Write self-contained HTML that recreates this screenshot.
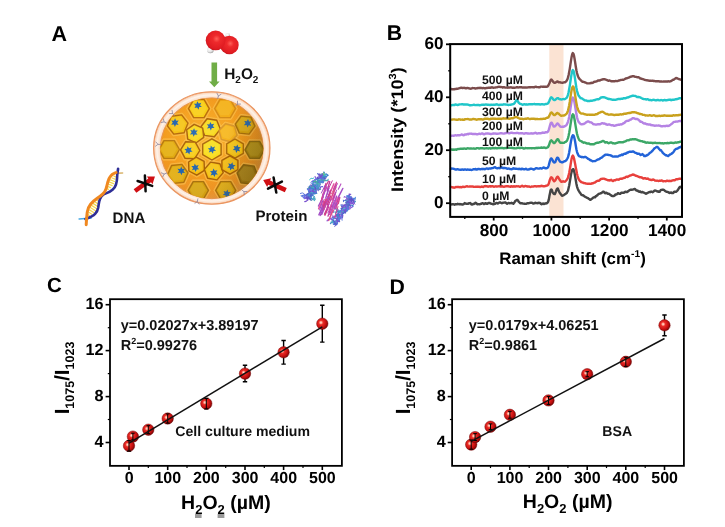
<!DOCTYPE html>
<html lang="en"><head><meta charset="utf-8"><title>Figure</title>
<style>html,body{margin:0;padding:0;background:#fff}svg{display:block;text-rendering:geometricPrecision}</style></head>
<body><svg width="725" height="527" viewBox="0 0 725 527">
<rect width="725" height="527" fill="#fff"/>
<defs>
<radialGradient id="ball" cx="0.38" cy="0.4" r="0.64"><stop offset="0" stop-color="#ffe6d6"/><stop offset="0.14" stop-color="#ffa694"/><stop offset="0.3" stop-color="#ea2c26"/><stop offset="0.68" stop-color="#c81010"/><stop offset="0.9" stop-color="#980808"/><stop offset="1" stop-color="#6a0404"/></radialGradient>
<radialGradient id="rball" cx="0.55" cy="0.42" r="0.62"><stop offset="0" stop-color="#ff6058"/><stop offset="0.3" stop-color="#ee2a2c"/><stop offset="0.8" stop-color="#e01c22"/><stop offset="1" stop-color="#c0141c"/></radialGradient>
<radialGradient id="wball" cx="0.4" cy="0.35" r="0.7"><stop offset="0" stop-color="#ffffff"/><stop offset="0.6" stop-color="#e4e4e4"/><stop offset="1" stop-color="#9a9a9a"/></radialGradient>
<radialGradient id="shell" cx="0.5" cy="0.5" r="0.5"><stop offset="0.87" stop-color="#f0a878"/><stop offset="0.9" stop-color="#fbe0cc"/><stop offset="0.945" stop-color="#fef3ea"/><stop offset="0.98" stop-color="#fbdac2"/><stop offset="1" stop-color="#ee9a64"/></radialGradient>
<radialGradient id="gold" cx="0.42" cy="0.4" r="0.62"><stop offset="0" stop-color="#f9ae22"/><stop offset="0.55" stop-color="#f49e1e"/><stop offset="0.85" stop-color="#ee9222"/><stop offset="1" stop-color="#ea9a40"/></radialGradient>
<linearGradient id="shadeR" x1="0" y1="0.35" x2="1" y2="0.6"><stop offset="0" stop-color="#6a4a00" stop-opacity="0"/><stop offset="0.62" stop-color="#6a4a00" stop-opacity="0"/><stop offset="0.9" stop-color="#5a4200" stop-opacity="0.2"/><stop offset="1" stop-color="#5a4200" stop-opacity="0.3"/></linearGradient>
<radialGradient id="shade" cx="0.4" cy="0.38" r="0.75"><stop offset="0" stop-color="#fff" stop-opacity="0.06"/><stop offset="0.55" stop-color="#fff" stop-opacity="0"/><stop offset="0.85" stop-color="#7a4a00" stop-opacity="0.06"/><stop offset="1" stop-color="#6a3a00" stop-opacity="0.2"/></radialGradient>
<clipPath id="sphclip"><ellipse cx="211.8" cy="148.3" rx="51.4" ry="50.4"/></clipPath>
</defs>
<ellipse cx="211.8" cy="148.0" rx="58.2" ry="56.2" fill="url(#shell)" stroke="#ea9560" stroke-width="1.1"/>
<ellipse cx="211.8" cy="148.3" rx="51.4" ry="50.4" fill="url(#gold)" stroke="#e89650" stroke-width="1.0"/>
<g clip-path="url(#sphclip)">
<polygon points="211.2,108.6 205.1,119.3 192.8,119.3 186.6,108.6 192.8,97.9 205.1,97.9" fill="#f9b83e" opacity="0.6" stroke="#fccb60" stroke-width="0.9"/>
<polygon points="237.4,108.6 231.2,119.3 218.9,119.3 212.8,108.6 218.9,97.9 231.2,97.9" fill="#f9b83e" opacity="0.6" stroke="#fccb60" stroke-width="0.9"/>
<polygon points="189.9,122.8 185.3,134.2 173.1,135.9 165.5,126.2 170.1,114.8 182.3,113.1" fill="#f9b83e" opacity="0.6" stroke="#fccb60" stroke-width="0.9"/>
<polygon points="222.2,129.4 215.0,138.6 203.6,136.9 199.2,126.2 206.4,117.0 217.8,118.7" fill="#f9b83e" opacity="0.6" stroke="#fccb60" stroke-width="0.9"/>
<polygon points="205.4,138.2 196.4,144.7 186.1,140.2 185.0,129.0 194.0,122.5 204.3,127.0" fill="#f9b83e" opacity="0.6" stroke="#fccb60" stroke-width="0.9"/>
<polygon points="238.8,135.7 230.9,143.6 220.1,140.7 217.2,129.9 225.1,122.0 235.9,124.9" fill="#f9b83e" opacity="0.6" stroke="#fccb60" stroke-width="0.9"/>
<polygon points="256.8,126.3 249.9,135.9 238.2,134.6 233.4,123.9 240.3,114.3 252.0,115.6" fill="#f9b83e" opacity="0.6" stroke="#fccb60" stroke-width="0.9"/>
<polygon points="181.4,149.5 175.3,160.1 163.1,160.1 157.0,149.5 163.1,138.9 175.3,138.9" fill="#f9b83e" opacity="0.6" stroke="#fccb60" stroke-width="0.9"/>
<polygon points="201.7,150.6 195.6,160.4 184.1,160.0 178.7,149.8 184.8,140.0 196.3,140.4" fill="#f9b83e" opacity="0.6" stroke="#fccb60" stroke-width="0.9"/>
<polygon points="222.7,155.7 211.9,161.9 201.1,155.7 201.1,143.2 211.9,136.9 222.7,143.2" fill="#f9b83e" opacity="0.6" stroke="#fccb60" stroke-width="0.9"/>
<polygon points="245.0,154.3 235.0,160.1 225.0,154.3 225.0,142.8 235.0,137.1 245.0,142.8" fill="#f9b83e" opacity="0.6" stroke="#fccb60" stroke-width="0.9"/>
<polygon points="266.3,149.8 260.5,159.8 248.9,159.8 243.1,149.8 248.9,139.8 260.5,139.8" fill="#f9b83e" opacity="0.6" stroke="#fccb60" stroke-width="0.9"/>
<polygon points="206.1,171.3 196.9,177.1 187.3,172.0 186.9,161.1 196.1,155.3 205.7,160.4" fill="#f9b83e" opacity="0.6" stroke="#fccb60" stroke-width="0.9"/>
<polygon points="225.0,173.0 217.7,181.7 206.5,179.7 202.6,169.0 209.9,160.3 221.1,162.3" fill="#f9b83e" opacity="0.6" stroke="#fccb60" stroke-width="0.9"/>
<polygon points="239.5,170.6 229.9,176.1 220.3,170.6 220.3,159.4 229.9,153.9 239.5,159.4" fill="#f9b83e" opacity="0.6" stroke="#fccb60" stroke-width="0.9"/>
<polygon points="189.9,172.6 184.9,183.9 172.7,185.1 165.5,175.2 170.5,163.9 182.7,162.7" fill="#f9b83e" opacity="0.6" stroke="#fccb60" stroke-width="0.9"/>
<polygon points="259.8,176.1 252.1,185.9 239.9,184.2 235.2,172.7 242.9,162.9 255.1,164.6" fill="#f9b83e" opacity="0.6" stroke="#fccb60" stroke-width="0.9"/>
<polygon points="210.3,190.3 204.3,200.7 192.3,200.7 186.3,190.3 192.3,179.9 204.3,179.9" fill="#f9b83e" opacity="0.6" stroke="#fccb60" stroke-width="0.9"/>
<polygon points="237.6,190.3 231.6,200.6 219.8,200.6 213.8,190.3 219.7,180.0 231.6,180.0" fill="#f9b83e" opacity="0.6" stroke="#fccb60" stroke-width="0.9"/>
<polygon points="209.3,108.6 204.1,117.6 193.7,117.6 188.5,108.6 193.7,99.6 204.1,99.6" fill="#f8cc12" stroke="#b86c08" stroke-width="1.4" stroke-linejoin="round"/>
<polygon points="206.7,108.1 202.6,115.2 194.4,115.2 190.3,108.1 194.4,101.0 202.6,101.0" fill="#fff27a" opacity="0.14"/>
<polygon points="197.3,101.2 198.7,103.5 201.3,102.8 200.0,105.2 201.9,107.1 199.2,107.1 198.5,109.7 197.1,107.4 194.5,108.1 195.7,105.7 193.9,103.8 196.5,103.8" fill="#2466b0"/>
<polygon points="235.5,108.6 230.3,117.6 219.9,117.6 214.7,108.6 219.9,99.6 230.3,99.6" fill="#f3ac16" stroke="#d48a14" stroke-width="1.4" stroke-linejoin="round"/>
<polygon points="232.9,108.1 228.8,115.2 220.6,115.2 216.5,108.1 220.6,101.0 228.8,101.0" fill="#fff27a" opacity="0.14"/>
<polygon points="188.0,123.1 184.1,132.7 173.8,134.1 167.4,125.9 171.3,116.3 181.6,114.9" fill="#f5c012" stroke="#b46808" stroke-width="1.4" stroke-linejoin="round"/>
<polygon points="185.4,122.9 182.3,130.5 174.2,131.6 169.2,125.1 172.3,117.5 180.4,116.4" fill="#fff27a" opacity="0.14"/>
<polygon points="175.1,118.3 176.1,120.8 178.7,120.6 177.1,122.7 178.6,124.9 176.0,124.5 174.9,126.9 173.9,124.5 171.2,124.7 172.8,122.6 171.3,120.4 173.9,120.7" fill="#2466b0"/>
<polygon points="220.3,129.1 214.3,136.8 204.7,135.4 201.1,126.5 207.1,118.8 216.7,120.2" fill="#f8d818" stroke="#a86006" stroke-width="1.4" stroke-linejoin="round"/>
<polygon points="217.7,128.3 213.1,134.3 205.7,133.2 202.9,126.3 207.5,120.3 214.9,121.4" fill="#fff27a" opacity="0.14"/>
<polygon points="210.3,121.9 211.6,124.3 214.2,123.8 212.8,126.0 214.5,128.1 211.8,128.0 210.9,130.5 209.7,128.1 207.0,128.6 208.5,126.3 206.8,124.3 209.4,124.4" fill="#2466b0"/>
<polygon points="203.7,137.4 196.2,142.8 187.7,139.1 186.7,129.8 194.2,124.4 202.7,128.1" fill="#f9d414" stroke="#a86006" stroke-width="1.4" stroke-linejoin="round"/>
<polygon points="201.3,136.0 195.5,140.2 189.1,137.3 188.3,130.2 194.1,126.0 200.5,128.9" fill="#fff27a" opacity="0.14"/>
<polygon points="194.1,128.2 195.0,130.6 197.7,130.5 196.0,132.6 197.5,134.8 194.8,134.4 193.6,136.7 192.7,134.2 190.0,134.4 191.7,132.3 190.3,130.1 192.9,130.5" fill="#2466b0"/>
<polygon points="237.0,135.2 230.4,141.8 221.4,139.4 219.0,130.4 225.6,123.8 234.6,126.2" fill="#f6b21a" stroke="#d8962a" stroke-width="1.4" stroke-linejoin="round"/>
<polygon points="234.5,134.1 229.4,139.2 222.6,137.3 220.7,130.5 225.8,125.4 232.6,127.3" fill="#fff27a" opacity="0.14"/>
<polygon points="254.9,126.1 249.1,134.1 239.3,133.1 235.3,124.1 241.1,116.1 250.9,117.1" fill="#d8a40e" stroke="#a8700c" stroke-width="1.4" stroke-linejoin="round"/>
<polygon points="252.4,125.4 247.8,131.6 240.2,130.8 237.0,123.8 241.6,117.6 249.2,118.4" fill="#fff27a" opacity="0.14"/>
<polygon points="248.0,119.0 249.0,121.5 251.6,121.4 249.9,123.4 251.3,125.7 248.7,125.2 247.5,127.6 246.6,125.1 243.9,125.2 245.6,123.1 244.2,120.9 246.8,121.3" fill="#2466b0"/>
<polygon points="179.5,149.5 174.3,158.4 164.0,158.4 158.9,149.5 164.0,140.6 174.3,140.6" fill="#e2aa10" stroke="#b87a10" stroke-width="1.4" stroke-linejoin="round"/>
<polygon points="176.9,149.0 172.8,156.0 164.8,156.0 160.7,149.0 164.7,142.0 172.8,142.0" fill="#fff27a" opacity="0.14"/>
<polygon points="199.8,150.5 194.7,158.7 185.1,158.3 180.6,149.9 185.7,141.7 195.3,142.1" fill="#f8ca12" stroke="#a86006" stroke-width="1.4" stroke-linejoin="round"/>
<polygon points="197.2,150.0 193.3,156.2 185.9,156.0 182.4,149.4 186.3,143.2 193.7,143.4" fill="#fff27a" opacity="0.14"/>
<polygon points="187.5,146.2 189.1,148.3 191.6,147.4 190.6,149.9 192.6,151.6 189.9,151.9 189.4,154.6 187.8,152.4 185.3,153.3 186.4,150.9 184.4,149.1 187.0,148.8" fill="#2466b0"/>
<polygon points="221.1,154.7 211.9,160.0 202.7,154.7 202.7,144.1 211.9,138.8 221.1,144.1" fill="#f9dc18" stroke="#a86408" stroke-width="1.4" stroke-linejoin="round"/>
<polygon points="218.8,153.1 211.5,157.3 204.2,153.1 204.2,144.7 211.5,140.5 218.8,144.7" fill="#fff27a" opacity="0.14"/>
<polygon points="210.8,145.4 212.5,147.4 215.0,146.5 214.0,149.0 216.1,150.7 213.4,151.0 213.0,153.7 211.3,151.6 208.8,152.5 209.8,150.1 207.8,148.4 210.4,148.0" fill="#2466b0"/>
<polygon points="243.3,153.4 235.0,158.2 226.7,153.4 226.7,143.8 235.0,139.0 243.3,143.8" fill="#f6c212" stroke="#ac6a0a" stroke-width="1.4" stroke-linejoin="round"/>
<polygon points="241.0,151.8 234.6,155.5 228.2,151.8 228.2,144.4 234.6,140.7 241.0,144.4" fill="#fff27a" opacity="0.14"/>
<polygon points="237.6,144.4 238.2,147.0 240.9,147.2 239.0,149.0 240.1,151.4 237.6,150.7 236.1,152.9 235.5,150.3 232.8,150.1 234.7,148.3 233.6,145.9 236.1,146.6" fill="#2466b0"/>
<polygon points="264.4,149.8 259.6,158.2 249.8,158.2 245.0,149.8 249.8,141.4 259.6,141.4" fill="#a8840f" stroke="#8a6810" stroke-width="1.4" stroke-linejoin="round"/>
<polygon points="261.8,149.3 258.1,155.8 250.5,155.8 246.8,149.3 250.5,142.8 258.1,142.8" fill="#fff27a" opacity="0.14"/>
<polygon points="204.4,170.4 196.8,175.2 188.9,171.0 188.6,162.0 196.2,157.2 204.1,161.4" fill="#f5bc12" stroke="#a86006" stroke-width="1.4" stroke-linejoin="round"/>
<polygon points="202.1,168.9 196.3,172.5 190.3,169.3 190.1,162.5 195.9,158.9 201.9,162.1" fill="#fff27a" opacity="0.14"/>
<polygon points="194.7,163.4 196.1,165.7 198.7,165.1 197.4,167.4 199.2,169.3 196.6,169.4 195.8,171.9 194.4,169.6 191.9,170.3 193.1,167.9 191.3,166.0 194.0,165.9" fill="#2466b0"/>
<polygon points="223.2,172.6 217.0,179.9 207.7,178.3 204.4,169.4 210.6,162.1 219.9,163.7" fill="#f5c012" stroke="#a86006" stroke-width="1.4" stroke-linejoin="round"/>
<polygon points="220.6,171.8 215.9,177.4 208.7,176.1 206.2,169.2 210.9,163.6 218.1,164.9" fill="#fff27a" opacity="0.14"/>
<polygon points="213.4,168.6 214.8,170.8 217.3,170.2 216.1,172.5 217.9,174.5 215.3,174.5 214.6,177.1 213.2,174.8 210.6,175.5 211.8,173.1 210.0,171.2 212.6,171.1" fill="#2466b0"/>
<polygon points="237.9,169.6 229.9,174.2 221.9,169.6 221.9,160.4 229.9,155.8 237.9,160.4" fill="#f4ba12" stroke="#a86006" stroke-width="1.4" stroke-linejoin="round"/>
<polygon points="235.6,168.0 229.5,171.5 223.4,168.0 223.4,161.0 229.5,157.5 235.6,161.0" fill="#fff27a" opacity="0.14"/>
<polygon points="232.5,162.2 232.9,164.8 235.5,165.2 233.4,166.9 234.4,169.4 231.9,168.4 230.2,170.5 229.8,167.9 227.2,167.5 229.3,165.8 228.3,163.3 230.8,164.3" fill="#2466b0"/>
<polygon points="188.0,172.8 183.8,182.3 173.5,183.4 167.4,175.0 171.6,165.5 181.9,164.4" fill="#e0a80e" stroke="#b0720c" stroke-width="1.4" stroke-linejoin="round"/>
<polygon points="185.5,172.5 182.1,180.0 174.0,180.9 169.1,174.3 172.5,166.8 180.6,165.9" fill="#fff27a" opacity="0.14"/>
<polygon points="181.2,166.6 182.3,169.0 185.0,168.7 183.4,170.9 185.1,173.0 182.4,172.7 181.4,175.2 180.3,172.8 177.6,173.1 179.2,170.9 177.5,168.8 180.2,169.1" fill="#2466b0"/>
<polygon points="257.9,175.9 251.4,184.1 241.0,182.7 237.1,172.9 243.6,164.7 254.0,166.1" fill="#9c7410" stroke="#86600e" stroke-width="1.4" stroke-linejoin="round"/>
<polygon points="255.3,175.1 250.2,181.6 242.0,180.4 238.9,172.7 244.0,166.2 252.2,167.4" fill="#fff27a" opacity="0.14"/>
<polygon points="208.4,190.3 203.4,199.0 193.2,199.0 188.2,190.3 193.2,181.6 203.4,181.6" fill="#d4a00e" stroke="#a8720e" stroke-width="1.4" stroke-linejoin="round"/>
<polygon points="205.8,189.8 201.8,196.6 194.0,196.6 190.0,189.8 193.9,183.0 201.8,183.0" fill="#fff27a" opacity="0.14"/>
<polygon points="235.7,190.3 230.7,199.0 220.7,199.0 215.7,190.3 220.7,181.6 230.7,181.6" fill="#dca60e" stroke="#a8700c" stroke-width="1.4" stroke-linejoin="round"/>
<polygon points="233.1,189.8 229.2,196.6 221.4,196.6 217.5,189.8 221.4,183.0 229.2,183.0" fill="#fff27a" opacity="0.14"/>
<polygon points="227.6,189.5 228.2,192.0 230.9,192.2 228.9,194.1 230.1,196.5 227.5,195.7 226.1,197.9 225.4,195.3 222.8,195.1 224.7,193.3 223.5,190.9 226.1,191.7" fill="#2466b0"/>
</g>
<ellipse cx="211.8" cy="148.3" rx="51.4" ry="50.4" fill="url(#shade)"/>
<ellipse cx="211.8" cy="148.3" rx="51.4" ry="50.4" fill="url(#shadeR)"/>
<g transform="translate(218.4,96.0) rotate(15)" stroke="#9088a0" stroke-width="0.9" fill="none" stroke-linecap="round" opacity="0.85"><path d="M0 2.6V0L-2.1 -2.3M0 0L2.1 -2.3"/></g>
<g transform="translate(237.4,104.2) rotate(45)" stroke="#9088a0" stroke-width="0.9" fill="none" stroke-linecap="round" opacity="0.85"><path d="M0 2.6V0L-2.1 -2.3M0 0L2.1 -2.3"/></g>
<g transform="translate(172.5,113.5) rotate(-50)" stroke="#9088a0" stroke-width="0.9" fill="none" stroke-linecap="round" opacity="0.85"><path d="M0 2.6V0L-2.1 -2.3M0 0L2.1 -2.3"/></g>
<g transform="translate(164.2,121.8) rotate(-60)" stroke="#9088a0" stroke-width="0.9" fill="none" stroke-linecap="round" opacity="0.85"><path d="M0 2.6V0L-2.1 -2.3M0 0L2.1 -2.3"/></g>
<g transform="translate(158.0,144.3) rotate(-85)" stroke="#9088a0" stroke-width="0.9" fill="none" stroke-linecap="round" opacity="0.85"><path d="M0 2.6V0L-2.1 -2.3M0 0L2.1 -2.3"/></g>
<g transform="translate(164.2,174) rotate(-110)" stroke="#9088a0" stroke-width="0.9" fill="none" stroke-linecap="round" opacity="0.85"><path d="M0 2.6V0L-2.1 -2.3M0 0L2.1 -2.3"/></g>
<g transform="translate(197.4,201.4) rotate(-170)" stroke="#9088a0" stroke-width="0.9" fill="none" stroke-linecap="round" opacity="0.85"><path d="M0 2.6V0L-2.1 -2.3M0 0L2.1 -2.3"/></g>
<g transform="translate(243.9,191.6) rotate(130)" stroke="#9088a0" stroke-width="0.9" fill="none" stroke-linecap="round" opacity="0.85"><path d="M0 2.6V0L-2.1 -2.3M0 0L2.1 -2.3"/></g>
<circle cx="210.4" cy="50.0" r="3.3" fill="url(#wball)"/>
<circle cx="227.6" cy="35.4" r="2.4" fill="url(#wball)"/>
<circle cx="229.4" cy="45.0" r="9.3" fill="url(#rball)"/>
<circle cx="215.6" cy="40.4" r="9.9" fill="url(#rball)"/>
<path d="M211.5 62.6H217.1V81.6H219.6L214.3 87.2L209 81.6H211.5Z" fill="#70ad47"/>
<text x="224.2" y="79.0" font-size="15.4" style="font-family:'Liberation Sans',sans-serif;font-weight:bold" fill="#111">H<tspan dy="3.8" font-size="10">2</tspan><tspan dy="-3.8">O</tspan><tspan dy="3.8" font-size="10">2</tspan></text>
<text x="112.6" y="222.7" font-size="15.1" style="font-family:'Liberation Sans',sans-serif;font-weight:bold" fill="#111">DNA</text>
<text x="255.4" y="221.0" font-size="15.1" style="font-family:'Liberation Sans',sans-serif;font-weight:bold" fill="#111">Protein</text>
<g transform="translate(135.0,191.0) rotate(-35.8)"><path d="M0 -2.3H18.1V-4.8L24.6 0L18.1 4.8V2.3H0Z" fill="#d00f14"/></g>
<g transform="translate(285.8,190.2) rotate(-155.7)"><path d="M0 -2.3H18.3V-4.8L24.8 0L18.3 4.8V2.3H0Z" fill="#d00f14"/></g>
<path d="M144.9 175.6L145.6 191.2M137.6 181L152.2 185.9" stroke="#0a0a0a" stroke-width="2.5" stroke-linecap="round" fill="none"/>
<path d="M273.6 177.6L276.3 192.6M268 188.6L281.9 181.6" stroke="#0a0a0a" stroke-width="2.5" stroke-linecap="round" fill="none"/>
<g fill="none" stroke-linecap="round">
<line x1="88.4" y1="214.9" x2="89.7" y2="215.7" stroke="#f4d850" stroke-width="1.3"/>
<line x1="88.9" y1="212.3" x2="91.8" y2="214.2" stroke="#f4d850" stroke-width="1.3"/>
<line x1="89.5" y1="209.9" x2="93.7" y2="212.5" stroke="#f4d850" stroke-width="1.3"/>
<line x1="90.3" y1="207.5" x2="95.4" y2="210.7" stroke="#f4d850" stroke-width="1.3"/>
<line x1="91.5" y1="205.4" x2="96.8" y2="208.8" stroke="#f4d850" stroke-width="1.3"/>
<line x1="92.9" y1="203.4" x2="97.9" y2="206.6" stroke="#f4d850" stroke-width="1.3"/>
<line x1="94.6" y1="201.6" x2="98.8" y2="204.3" stroke="#f4d850" stroke-width="1.3"/>
<line x1="96.5" y1="200.0" x2="99.4" y2="201.8" stroke="#f4d850" stroke-width="1.3"/>
<line x1="98.5" y1="198.4" x2="99.9" y2="199.3" stroke="#f4d850" stroke-width="1.3"/>
<line x1="107.2" y1="188.7" x2="108.5" y2="189.3" stroke="#f4d850" stroke-width="1.3"/>
<line x1="107.5" y1="186.3" x2="110.5" y2="187.6" stroke="#f4d850" stroke-width="1.3"/>
<line x1="108.1" y1="184.0" x2="112.1" y2="185.7" stroke="#f4d850" stroke-width="1.3"/>
<line x1="109.0" y1="181.8" x2="113.5" y2="183.7" stroke="#f4d850" stroke-width="1.3"/>
<line x1="110.4" y1="179.8" x2="114.4" y2="181.5" stroke="#f4d850" stroke-width="1.3"/>
<line x1="112.1" y1="178.0" x2="115.0" y2="179.2" stroke="#f4d850" stroke-width="1.3"/>
<line x1="114.0" y1="176.2" x2="115.4" y2="176.8" stroke="#f4d850" stroke-width="1.3"/>
<line x1="79.1" y1="219.0" x2="91.2" y2="218.0" stroke="#46a8e4" stroke-width="1.5"/>
<line x1="117.2" y1="173.2" x2="122.6" y2="173.1" stroke="#d9b46c" stroke-width="1.5"/>
<path d="M85.5 219.0Q92.6 216.6 95.1 213.9Q97.6 211.2 98.2 207.7Q98.7 204.1 99.3 201.3Q99.9 198.4 101.4 196.4Q103.0 194.4 106.6 193.1Q110.1 191.9 112.5 189.8Q115.0 187.7 116.0 184.5Q117.0 181.3 117.1 177.8Q117.2 174.2 117.7 171.5L118.1 168.8" stroke="#2e2e96" stroke-width="2.6"/>
<path d="M86.2 224.7Q86.7 216.2 87.3 211.9Q87.9 207.7 90.6 204.3Q93.3 201.0 96.9 198.6Q100.4 196.3 102.9 193.9Q105.3 191.6 106.1 188.6Q107.0 185.6 107.8 182.0Q108.7 178.5 110.4 176.4Q112.1 174.2 114.1 173.4L116.1 172.5" stroke="#f08820" stroke-width="3.0"/>
</g>
<g fill="none" stroke-linecap="round" opacity="0.9">
<path d="M310.4 184.9l-0.2 1.4l-1.2 1.2l-0.1 0.5" stroke="#4a40c0" stroke-width="0.9"/>
<path d="M312.7 186.8l-1.6 1.2l0.8 -1.8l1.9 1.9" stroke="#5a4ad0" stroke-width="1.2"/>
<path d="M317.4 184.2l-1.7 -1.9l1.5 0.4l1.1 -0.7" stroke="#2a76c8" stroke-width="1.2"/>
<path d="M310.3 194.0l0.6 -0.0l0.6 -0.2l-0.9 2.0" stroke="#6a3ec8" stroke-width="1.4"/>
<path d="M320.6 178.6l0.1 -1.9l0.3 -1.6l-1.6 -0.8" stroke="#6a3ec8" stroke-width="0.8"/>
<path d="M305.4 196.8l-2.0 -1.2l1.6 -0.1l1.9 -0.4" stroke="#38a8b8" stroke-width="0.8"/>
<path d="M317.7 184.0l-0.8 -1.9l-0.4 1.7l-1.5 0.8" stroke="#4468d8" stroke-width="0.8"/>
<path d="M313.2 186.5l-1.3 0.2l-0.2 -1.2l0.9 -1.5" stroke="#4a40c0" stroke-width="1.2"/>
<path d="M307.5 194.8l1.5 1.9l0.4 2.0l-1.9 -1.3" stroke="#2e86c0" stroke-width="1.4"/>
<path d="M317.6 184.9l-1.6 2.0l-1.1 -1.0l1.1 -0.7" stroke="#5a60e0" stroke-width="1.0"/>
<path d="M310.1 198.2l-1.9 -0.5l0.5 -1.5l0.3 1.3" stroke="#6a3ec8" stroke-width="0.9"/>
<path d="M314.6 190.4l-1.4 1.6l1.3 -1.0l-1.2 1.0" stroke="#38a8b8" stroke-width="1.4"/>
<path d="M313.8 196.5l-1.7 -1.8l-1.6 0.0l-1.0 1.0" stroke="#5a60e0" stroke-width="1.0"/>
<path d="M312.7 187.7l-0.0 0.1l1.7 1.9l-1.5 -0.1" stroke="#5a60e0" stroke-width="1.2"/>
<path d="M318.4 184.9l1.0 -1.7l-0.4 -1.0l-1.8 -0.9" stroke="#6a3ec8" stroke-width="1.1"/>
<path d="M323.9 176.2l-0.6 1.6l1.9 0.6l0.8 0.3" stroke="#4468d8" stroke-width="0.9"/>
<path d="M311.4 200.6l-0.8 -1.9l0.4 -1.7l-1.7 -0.8" stroke="#30a890" stroke-width="0.9"/>
<path d="M308.4 197.0l0.2 0.9l1.6 0.9l0.8 1.2" stroke="#4a40c0" stroke-width="1.3"/>
<path d="M311.1 189.0l1.4 1.8l-1.9 -0.0l-1.9 0.6" stroke="#28b0c0" stroke-width="1.0"/>
<path d="M303.2 195.3l-1.7 0.6l2.0 1.5l0.9 -0.4" stroke="#4468d8" stroke-width="1.2"/>
<path d="M313.2 182.4l0.1 0.1l-0.8 -1.6l-1.9 1.8" stroke="#4468d8" stroke-width="0.9"/>
<path d="M321.3 181.2l1.7 -1.0l-2.0 -0.8l0.7 -1.2" stroke="#38a8b8" stroke-width="0.9"/>
<path d="M321.1 176.6l-0.7 0.7l-1.2 -0.3l1.2 1.7" stroke="#6a3ec8" stroke-width="1.3"/>
<path d="M311.5 188.2l1.7 -1.2l-1.5 -0.6l1.6 -1.8" stroke="#5a60e0" stroke-width="0.8"/>
<path d="M323.8 175.9l-0.9 -1.1l-0.3 0.5l-0.0 -0.7" stroke="#4a40c0" stroke-width="1.3"/>
<path d="M322.6 175.0l-0.7 1.3l-0.9 0.4l0.7 -0.9" stroke="#4a40c0" stroke-width="1.0"/>
<path d="M315.3 181.5l-0.2 -1.9l1.3 -1.1l-1.4 -1.8" stroke="#7a4ed8" stroke-width="1.2"/>
<path d="M313.3 187.2l0.1 0.6l-0.5 -1.7l-1.2 1.3" stroke="#38a8b8" stroke-width="1.0"/>
<path d="M319.0 181.9l-1.3 -0.9l-0.6 0.8l0.1 0.5" stroke="#3c56c8" stroke-width="1.3"/>
<path d="M311.1 187.5l0.8 -1.1l-0.4 1.6l-0.4 -0.2" stroke="#58c070" stroke-width="0.9"/>
<path d="M324.2 179.5l1.5 1.2l1.8 -0.1l0.6 -1.2" stroke="#38a8b8" stroke-width="1.2"/>
<path d="M320.8 179.5l1.7 -1.5l-1.0 -0.4l-1.6 -0.8" stroke="#38a8b8" stroke-width="1.4"/>
<path d="M322.4 176.6l-0.6 -1.7l-0.2 0.2l1.1 -0.1" stroke="#3c56c8" stroke-width="0.8"/>
<path d="M323.5 181.8l-0.3 -1.9l0.1 0.7l1.7 -0.1" stroke="#4468d8" stroke-width="1.4"/>
<path d="M319.2 175.4l1.8 -0.0l1.8 -1.7l-1.1 0.1" stroke="#4a40c0" stroke-width="1.0"/>
<path d="M318.8 181.2l-1.3 0.1l1.6 -1.0l0.7 1.8" stroke="#38a8b8" stroke-width="1.3"/>
<path d="M316.7 184.0l0.1 0.3l-1.2 0.1l0.0 0.4" stroke="#2a76c8" stroke-width="0.8"/>
<path d="M324.2 176.6l1.7 0.2l2.0 -1.5l-1.6 -1.3" stroke="#2a76c8" stroke-width="1.4"/>
<path d="M317.5 189.9l-0.9 -0.1l-1.5 -0.3l1.3 1.6" stroke="#7a4ed8" stroke-width="1.1"/>
<path d="M310.5 189.8l-0.3 -1.9l-1.0 0.8l1.9 -1.9" stroke="#6a3ec8" stroke-width="0.9"/>
<path d="M306.3 197.6l0.5 -1.6l0.9 -1.5l0.0 -1.0" stroke="#6a3ec8" stroke-width="0.9"/>
<path d="M318.7 188.2l-1.9 0.5l1.3 0.5l0.2 1.5" stroke="#7a4ed8" stroke-width="1.1"/>
<path d="M310.9 193.6l1.4 -1.1l1.0 1.2l1.6 -0.7" stroke="#5a60e0" stroke-width="1.0"/>
<path d="M324.8 178.7l1.1 -1.2l-1.6 1.6l-1.5 -1.6" stroke="#6a3ec8" stroke-width="1.0"/>
<path d="M316.3 189.9l-1.5 -0.4l0.7 -1.9l-1.2 0.7" stroke="#30a890" stroke-width="1.3"/>
<path d="M322.4 175.3l0.8 0.5l-0.6 2.0l1.3 1.2" stroke="#4468d8" stroke-width="1.1"/>
<path d="M307.3 197.9l-0.1 -1.2l-1.5 -1.3l-1.4 -0.9" stroke="#5a60e0" stroke-width="1.2"/>
<path d="M314.0 183.0l1.8 -0.2l1.1 -0.7l-0.1 0.1" stroke="#5a4ad0" stroke-width="1.1"/>
<path d="M319.9 186.6l-1.2 -0.4l-0.6 -0.5l1.7 0.4" stroke="#28b0c0" stroke-width="0.9"/>
<path d="M320.5 180.2l1.6 1.2l0.8 1.4l0.5 -0.4" stroke="#3a7ad8" stroke-width="1.2"/>
<path d="M318.7 189.2l-0.9 -1.5l1.0 -1.4l1.7 -1.5" stroke="#2e86c0" stroke-width="1.0"/>
<path d="M315.5 185.6l1.1 1.1l-0.4 0.9l-1.7 -0.6" stroke="#3a7ad8" stroke-width="1.1"/>
<path d="M305.2 196.9l-1.8 -0.9l1.8 -0.8l-1.1 -0.4" stroke="#5a60e0" stroke-width="0.9"/>
<path d="M310.1 198.1l2.0 0.6l0.8 1.0l1.9 -1.9" stroke="#2a76c8" stroke-width="1.2"/>
<path d="M319.2 181.2l1.0 0.6l-2.0 -1.0l-0.9 -0.6" stroke="#3c56c8" stroke-width="1.1"/>
<path d="M315.7 190.1l0.3 2.0l0.6 1.2l-1.7 0.4" stroke="#2a76c8" stroke-width="1.3"/>
<path d="M308.5 198.0l1.9 1.4l0.2 0.4l-0.3 -0.0" stroke="#4a40c0" stroke-width="1.0"/>
<path d="M313.0 188.8l-0.5 -0.9l0.6 0.2l-0.9 0.9" stroke="#2e86c0" stroke-width="1.0"/>
<path d="M307.0 198.0l-0.4 0.7l-1.8 -0.7l-0.4 0.3" stroke="#5a4ad0" stroke-width="1.2"/>
<path d="M312.7 191.4l1.6 -0.3l-0.1 1.9l-1.0 0.1" stroke="#58c070" stroke-width="1.4"/>
<path d="M313.9 177.8l-1.0 0.8l-1.8 -0.3l-1.5 1.4" stroke="#28b0c0" stroke-width="1.0"/>
<path d="M310.4 195.5l-0.2 0.7l-0.2 -1.0l0.3 -0.3" stroke="#3a7ad8" stroke-width="1.3"/>
<path d="M320.4 189.5l-1.5 -0.1l0.0 -0.8l0.0 1.4" stroke="#30a890" stroke-width="1.0"/>
<path d="M317.0 184.2l0.3 0.4l0.5 1.0l-1.2 -1.0" stroke="#30a890" stroke-width="1.4"/>
<path d="M322.7 177.4l-2.0 -1.0l-1.9 -1.8l-1.1 -0.9" stroke="#3c56c8" stroke-width="1.3"/>
<path d="M321.9 176.9l0.2 0.5l-0.5 -0.1l-1.2 -0.6" stroke="#5a4ad0" stroke-width="1.2"/>
<path d="M321.9 179.5l1.3 1.4l1.1 -0.2l1.0 -0.4" stroke="#58c070" stroke-width="0.9"/>
<path d="M309.8 195.1l2.0 -0.7l0.2 1.0l1.7 -0.3" stroke="#28b0c0" stroke-width="1.0"/>
<path d="M308.9 196.5l-0.3 0.3l1.3 -0.1l1.3 -2.0" stroke="#4468d8" stroke-width="1.0"/>
<path d="M321.7 176.8l-1.7 -0.8l0.9 0.8l-0.9 -1.4" stroke="#5a60e0" stroke-width="1.0"/>
<path d="M318.4 181.1l-0.2 0.4l1.6 0.7l-0.9 0.1" stroke="#30a890" stroke-width="1.4"/>
<path d="M315.2 188.2l-0.4 1.7l1.6 -1.0l-0.6 -0.5" stroke="#6a3ec8" stroke-width="1.0"/>
<path d="M312.5 188.5l-0.5 -0.4l-1.4 0.4l-1.3 -1.6" stroke="#5a60e0" stroke-width="1.1"/>
<path d="M322.1 179.1l-1.9 0.1l0.2 0.3l1.9 0.6" stroke="#58c070" stroke-width="1.3"/>
<path d="M304.6 194.5l-0.7 -0.9l-1.6 -0.7l-1.9 0.6" stroke="#4468d8" stroke-width="0.9"/>
<path d="M319.7 178.7l-1.0 -1.1l1.1 0.1l1.1 -0.4" stroke="#7a4ed8" stroke-width="1.0"/>
<path d="M322.2 175.2l1.2 -1.7l0.5 -1.8l1.0 1.9" stroke="#2a76c8" stroke-width="1.0"/>
<path d="M304.8 196.8l1.3 1.6l1.8 0.6l0.1 0.8" stroke="#7a4ed8" stroke-width="1.3"/>
<path d="M313.0 187.9l-1.4 0.5l0.7 -0.7l-0.4 0.1" stroke="#30a890" stroke-width="1.0"/>
<path d="M322.3 178.2l-0.8 -1.5l0.6 1.1l-1.3 -1.8" stroke="#4a40c0" stroke-width="1.1"/>
<path d="M317.1 185.1l-1.2 -0.6l0.4 0.4l-0.1 0.0" stroke="#4468d8" stroke-width="1.1"/>
<path d="M321.7 177.4l-1.3 1.0l-0.8 0.2l1.3 -0.1" stroke="#7a4ed8" stroke-width="1.0"/>
<path d="M323.3 178.9l1.1 -1.6l1.5 -0.4l-1.1 -1.5" stroke="#2a76c8" stroke-width="1.3"/>
<path d="M322.5 175.1l0.1 -0.9l2.0 0.6l-1.0 -2.0" stroke="#58c070" stroke-width="1.1"/>
<path d="M313.9 190.4l1.5 -0.3l1.1 -1.4l1.6 1.2" stroke="#5a60e0" stroke-width="0.9"/>
<path d="M316.5 179.1l-0.9 0.1l-1.4 1.1l-2.0 1.3" stroke="#5a60e0" stroke-width="1.3"/>
<path d="M322.0 180.3l0.1 1.6l0.8 -1.7l1.0 0.2" stroke="#30a890" stroke-width="1.1"/>
<path d="M307.8 198.4l-0.3 1.7l-1.6 1.3l-1.2 0.2" stroke="#6a3ec8" stroke-width="1.1"/>
<path d="M310.2 195.3l-0.4 0.2l2.0 0.7l-1.7 -1.7" stroke="#2e86c0" stroke-width="0.9"/>
<path d="M316.7 181.8l-0.2 1.9l1.3 0.6l-2.0 -0.5" stroke="#38a8b8" stroke-width="1.2"/>
<path d="M308.8 191.4l1.4 1.4l0.9 1.6l-1.4 0.5" stroke="#3c56c8" stroke-width="1.4"/>
<path d="M318.7 180.4l1.0 0.2l-1.7 -1.2l-0.5 -1.6" stroke="#3a7ad8" stroke-width="1.0"/>
<path d="M308.7 190.0l1.3 -1.6l-1.4 -1.6l0.7 0.8" stroke="#4a40c0" stroke-width="0.9"/>
<path d="M314.1 189.4l-0.1 0.8l-1.6 -1.9l1.9 -0.3" stroke="#28b0c0" stroke-width="1.3"/>
<path d="M314.5 191.8l0.6 1.1l1.3 -0.5l-0.7 -0.4" stroke="#5a4ad0" stroke-width="0.8"/>
<path d="M309.7 186.2l-0.7 1.2l-1.0 1.9l0.1 -1.0" stroke="#30a890" stroke-width="0.9"/>
<path d="M309.7 189.6l0.0 1.2l1.3 0.4l-1.4 1.1" stroke="#6a3ec8" stroke-width="1.3"/>
<path d="M316.9 186.3l0.4 0.1l0.3 -1.2l1.7 2.0" stroke="#3a7ad8" stroke-width="1.2"/>
<path d="M322.3 176.4l-1.2 -1.7l-1.0 0.3l0.8 -0.7" stroke="#38a8b8" stroke-width="1.4"/>
<path d="M312.7 189.8l1.5 -0.2l0.9 -1.0l0.3 0.2" stroke="#4a40c0" stroke-width="0.8"/>
<path d="M323.8 178.3l-0.7 -1.4l1.7 -2.0l0.7 -0.5" stroke="#28b0c0" stroke-width="1.3"/>
<path d="M315.6 191.9l-1.3 0.2l-1.7 -1.9l-1.3 1.9" stroke="#5a4ad0" stroke-width="1.4"/>
<path d="M316.9 182.4l1.6 0.5l0.6 1.1l-1.4 -0.4" stroke="#30a890" stroke-width="0.8"/>
<path d="M318.3 188.1l0.3 -1.3l0.1 -0.9l0.3 -0.7" stroke="#4468d8" stroke-width="1.2"/>
<path d="M306.8 197.1l0.4 -0.1l-0.4 0.5l0.8 1.0" stroke="#4a40c0" stroke-width="1.3"/>
<path d="M314.1 186.4l1.4 1.4l-0.4 -0.3l0.3 1.6" stroke="#4a40c0" stroke-width="1.1"/>
<path d="M311.9 183.4l1.6 -0.8l0.5 -0.3l-0.5 -0.7" stroke="#3a7ad8" stroke-width="1.3"/>
<path d="M323.4 179.1l-1.0 1.4l-1.0 1.5l1.9 -0.1" stroke="#4468d8" stroke-width="0.9"/>
<path d="M319.6 175.3l1.5 2.0l0.9 1.5l-0.5 0.2" stroke="#6a3ec8" stroke-width="1.1"/>
<path d="M308.7 194.0l1.0 0.3l1.6 -1.6l1.2 -1.5" stroke="#38a8b8" stroke-width="1.1"/>
<path d="M324.3 177.4l-1.9 -1.3l-0.2 -0.2l0.1 -1.4" stroke="#2e86c0" stroke-width="1.2"/>
<path d="M310.6 193.0l-1.9 1.6l-0.8 -0.0l1.7 1.9" stroke="#2e86c0" stroke-width="1.1"/>
<path d="M309.0 192.7l-1.2 1.4l-0.6 -0.1l-1.3 1.5" stroke="#3c56c8" stroke-width="1.4"/>
<path d="M314.3 196.7l-1.1 1.8l1.9 0.6l-0.8 1.3" stroke="#38a8b8" stroke-width="1.4"/>
<path d="M308.0 189.5l0.8 1.8l-0.2 -1.7l-1.1 -0.8" stroke="#3a7ad8" stroke-width="1.2"/>
<path d="M311.9 195.2l0.9 0.0l-0.8 -0.9l1.2 0.1" stroke="#5a4ad0" stroke-width="0.9"/>
<path d="M319.5 189.3l0.7 -0.9l0.6 -1.6l1.9 -0.2" stroke="#5a4ad0" stroke-width="1.1"/>
<path d="M315.2 185.6l-2.0 0.3l0.1 -0.3l0.3 -1.3" stroke="#3c56c8" stroke-width="1.4"/>
<path d="M311.3 194.9l-1.3 1.6l2.0 -1.9l-0.2 1.0" stroke="#3c56c8" stroke-width="1.0"/>
<path d="M325.3 178.9l-1.8 -1.7l1.1 1.6l-0.7 -0.1" stroke="#4a40c0" stroke-width="0.8"/>
<path d="M312.9 192.5l1.0 0.1l0.4 1.1l-1.6 -0.3" stroke="#2a76c8" stroke-width="1.2"/>
<path d="M313.7 183.9l1.1 1.2l-1.1 -0.0l-1.1 0.3" stroke="#2e86c0" stroke-width="1.1"/>
<path d="M304.8 195.7l-0.2 1.5l-0.7 0.4l0.4 1.2" stroke="#5a60e0" stroke-width="1.1"/>
<path d="M317.3 180.3l1.2 -1.7l1.6 0.3l0.2 1.2" stroke="#28b0c0" stroke-width="0.9"/>
<path d="M309.0 194.8l1.3 1.0l1.1 1.1l-0.0 0.6" stroke="#3a7ad8" stroke-width="1.1"/>
<path d="M313.7 189.9l-1.4 0.8l1.3 1.1l-1.8 -0.4" stroke="#6a3ec8" stroke-width="1.0"/>
<path d="M310.9 193.7l1.0 0.4l-1.5 1.0l0.1 1.9" stroke="#4a40c0" stroke-width="0.8"/>
<path d="M313.6 188.8l-1.4 -0.4l-0.8 -0.3l-1.7 -1.9" stroke="#2a76c8" stroke-width="1.4"/>
<path d="M319.6 180.6l-1.5 1.4l-0.3 -1.7l-1.1 -0.8" stroke="#2e86c0" stroke-width="1.4"/>
<path d="M321.1 176.0l-1.8 -0.4l0.6 -1.8l-0.6 0.8" stroke="#6a3ec8" stroke-width="1.3"/>
<path d="M318.4 185.8l1.7 -1.1l-0.5 -1.8l-0.3 -1.0" stroke="#7a4ed8" stroke-width="1.3"/>
<path d="M319.0 178.7l-1.2 -1.1l-0.1 -0.8l-0.2 2.0" stroke="#4a40c0" stroke-width="1.2"/>
<path d="M321.9 178.7l-1.8 -0.9l1.8 0.5l0.1 1.0" stroke="#4468d8" stroke-width="1.1"/>
<path d="M318.2 186.5l0.9 -0.9l-0.6 -1.4l1.7 -0.6" stroke="#38a8b8" stroke-width="1.3"/>
<path d="M319.4 181.8l1.4 -0.2l1.4 -0.5l-1.0 1.5" stroke="#3a7ad8" stroke-width="1.2"/>
<path d="M311.6 191.2l-1.0 -1.8l-1.4 0.4l-1.9 -0.8" stroke="#5a60e0" stroke-width="1.1"/>
<path d="M317.9 187.2l-0.7 -0.2l-0.5 1.5l1.3 0.1" stroke="#2e86c0" stroke-width="1.1"/>
<path d="M311.3 196.8l1.5 -1.1l-0.8 -0.6l-1.1 -1.8" stroke="#2a76c8" stroke-width="0.8"/>
<path d="M314.3 181.4l-0.8 0.7l1.7 -1.1l0.8 0.7" stroke="#30a890" stroke-width="1.4"/>
<path d="M320.1 177.2l1.1 -1.0l1.2 -1.5l-0.0 -0.0" stroke="#6a3ec8" stroke-width="1.4"/>
<path d="M347.1 205.5l-1.2 1.1l-0.6 0.8l0.1 1.0" stroke="#7a4ed8" stroke-width="1.3"/>
<path d="M338.5 219.6l0.3 0.8l0.2 0.8l-1.9 -0.4" stroke="#4a40c0" stroke-width="1.0"/>
<path d="M351.3 199.8l1.4 -0.8l0.9 1.5l-1.7 -1.9" stroke="#4a40c0" stroke-width="1.0"/>
<path d="M344.7 207.3l-1.0 0.7l-1.3 -0.1l0.5 1.8" stroke="#2e86c0" stroke-width="1.0"/>
<path d="M338.3 210.6l-1.8 0.2l0.5 -1.7l-1.7 -0.1" stroke="#38a8b8" stroke-width="1.1"/>
<path d="M335.5 223.7l-1.8 -1.5l0.0 -0.8l-0.6 1.9" stroke="#7a4ed8" stroke-width="0.9"/>
<path d="M348.0 202.5l0.1 1.7l1.9 -2.0l0.2 1.4" stroke="#6a3ec8" stroke-width="1.3"/>
<path d="M347.6 197.9l1.5 0.8l1.2 -0.9l-1.6 -1.9" stroke="#2a76c8" stroke-width="1.3"/>
<path d="M349.0 203.8l1.3 -1.4l0.5 -0.0l0.3 -0.5" stroke="#6a3ec8" stroke-width="1.0"/>
<path d="M337.6 216.8l-0.0 0.6l-0.6 0.8l1.7 1.0" stroke="#2a76c8" stroke-width="1.3"/>
<path d="M332.2 222.3l-1.5 -0.2l1.1 -0.1l-1.3 1.5" stroke="#2e86c0" stroke-width="1.3"/>
<path d="M354.5 201.8l-0.4 1.0l0.8 -1.0l0.5 -0.5" stroke="#2e86c0" stroke-width="1.2"/>
<path d="M347.7 202.0l1.3 0.3l-0.3 0.8l0.5 1.3" stroke="#5a60e0" stroke-width="1.3"/>
<path d="M350.6 201.8l0.5 -0.8l0.6 1.9l-0.1 0.8" stroke="#7a4ed8" stroke-width="1.3"/>
<path d="M335.2 222.0l0.5 -0.4l1.7 2.0l-1.8 0.9" stroke="#2e86c0" stroke-width="0.9"/>
<path d="M349.6 197.9l-0.6 0.2l1.2 -0.4l1.6 1.3" stroke="#2e86c0" stroke-width="1.3"/>
<path d="M346.9 200.9l-0.9 -0.4l0.5 1.1l1.9 -0.4" stroke="#38a8b8" stroke-width="1.2"/>
<path d="M341.1 211.4l1.5 -0.2l1.3 0.2l1.6 1.5" stroke="#6a3ac0" stroke-width="1.1"/>
<path d="M348.0 201.0l-1.4 0.5l-0.9 -1.1l-0.1 -0.5" stroke="#5a60e0" stroke-width="1.0"/>
<path d="M352.0 199.9l-2.0 1.0l0.7 -2.0l-0.7 -1.4" stroke="#4468d8" stroke-width="1.3"/>
<path d="M334.2 223.9l1.2 -0.4l-1.8 0.2l0.6 0.5" stroke="#3a7ad8" stroke-width="1.0"/>
<path d="M334.5 222.0l2.0 -0.2l1.3 0.9l-1.3 -1.9" stroke="#6a3ec8" stroke-width="0.9"/>
<path d="M348.1 199.8l0.2 -1.7l-0.1 1.5l-1.7 -0.5" stroke="#6a3ac0" stroke-width="1.3"/>
<path d="M346.2 204.1l1.2 0.9l-0.4 1.2l1.3 1.1" stroke="#6a3ec8" stroke-width="1.4"/>
<path d="M348.2 199.1l-0.4 1.6l0.5 -2.0l-1.4 -0.7" stroke="#8a4ad0" stroke-width="1.2"/>
<path d="M343.3 211.4l1.2 -0.5l0.6 -0.6l-0.9 1.6" stroke="#2e86c0" stroke-width="1.0"/>
<path d="M351.8 201.4l-1.8 -1.5l-0.8 -1.2l-0.6 -1.4" stroke="#6a3ec8" stroke-width="1.0"/>
<path d="M345.8 200.6l-2.0 0.0l-0.4 -0.7l0.1 1.8" stroke="#3c56c8" stroke-width="0.9"/>
<path d="M337.2 221.7l0.3 -0.7l-0.1 1.8l-0.0 1.1" stroke="#4468d8" stroke-width="1.3"/>
<path d="M334.2 216.9l0.7 1.8l-0.7 -1.3l-0.6 2.0" stroke="#4468d8" stroke-width="0.9"/>
<path d="M342.3 215.7l0.5 -0.6l-0.2 0.9l-0.3 1.9" stroke="#6a3ec8" stroke-width="1.4"/>
<path d="M347.7 199.6l0.8 -0.2l0.7 -0.3l-0.5 -1.1" stroke="#8a4ad0" stroke-width="1.2"/>
<path d="M341.9 213.0l-0.2 -0.9l-1.8 -1.8l-0.7 0.1" stroke="#38a8b8" stroke-width="1.0"/>
<path d="M347.3 204.5l-0.7 0.9l2.0 -0.4l1.5 -1.5" stroke="#5a60e0" stroke-width="1.4"/>
<path d="M342.6 210.3l1.2 -1.4l-1.5 -1.6l-1.0 -1.0" stroke="#38a8b8" stroke-width="0.9"/>
<path d="M347.5 196.2l-1.0 1.2l-0.2 0.1l1.5 -1.2" stroke="#3a7ad8" stroke-width="1.0"/>
<path d="M338.0 213.0l1.0 1.5l-1.7 -0.0l-1.8 1.5" stroke="#6a3ac0" stroke-width="1.4"/>
<path d="M349.6 198.8l1.2 -1.3l-0.7 1.7l1.8 -1.1" stroke="#5a4ad0" stroke-width="1.0"/>
<path d="M344.7 208.9l0.5 1.6l-1.7 2.0l-1.2 0.5" stroke="#38a8b8" stroke-width="1.3"/>
<path d="M339.0 216.9l0.2 2.0l-0.5 1.3l0.8 1.4" stroke="#6a3ec8" stroke-width="1.4"/>
<path d="M339.6 214.7l-1.5 0.8l-0.1 -1.5l-1.5 1.8" stroke="#6a3ac0" stroke-width="1.2"/>
<path d="M344.1 206.2l-2.0 -1.7l-1.2 0.9l1.5 1.1" stroke="#6a3ec8" stroke-width="0.9"/>
<path d="M350.8 199.8l-0.4 -0.2l0.0 1.8l-0.6 0.8" stroke="#5a60e0" stroke-width="0.9"/>
<path d="M339.5 211.6l-1.5 1.5l1.8 -1.7l0.6 -1.1" stroke="#2e86c0" stroke-width="1.1"/>
<path d="M349.4 203.8l-1.7 -0.3l-0.9 -0.2l1.8 -0.8" stroke="#38a8b8" stroke-width="1.2"/>
<path d="M338.9 214.8l-1.9 -0.5l0.4 1.5l-0.4 -0.9" stroke="#6a3ec8" stroke-width="0.9"/>
<path d="M335.8 220.6l-1.6 1.6l-1.6 -0.5l-0.5 0.9" stroke="#38a8b8" stroke-width="1.2"/>
<path d="M346.5 207.4l0.7 -1.4l-1.7 -1.3l0.0 -0.1" stroke="#3c56c8" stroke-width="1.2"/>
<path d="M350.7 199.4l-0.4 1.3l0.6 0.8l2.0 -1.7" stroke="#6a3ac0" stroke-width="1.1"/>
<path d="M344.2 208.0l1.7 0.1l0.3 -0.0l1.3 0.1" stroke="#38a8b8" stroke-width="0.9"/>
<path d="M332.6 215.0l0.5 1.0l-1.0 1.2l0.9 1.1" stroke="#8a4ad0" stroke-width="0.9"/>
<path d="M343.2 209.9l-0.5 -0.5l1.3 1.5l-1.6 -0.3" stroke="#3c56c8" stroke-width="1.1"/>
<path d="M334.0 223.0l0.3 -1.7l-1.0 0.7l0.0 -0.8" stroke="#2a76c8" stroke-width="1.0"/>
<path d="M348.2 204.8l-0.3 -1.8l-1.1 -0.2l0.2 -0.2" stroke="#5a60e0" stroke-width="1.3"/>
<path d="M349.3 200.1l0.1 -0.4l0.4 1.5l1.9 -0.3" stroke="#5a60e0" stroke-width="0.8"/>
<path d="M350.0 202.4l0.9 0.9l-1.4 0.1l-1.9 -1.6" stroke="#4468d8" stroke-width="1.0"/>
<path d="M336.6 224.5l-0.4 -0.8l-1.1 0.1l0.6 -0.3" stroke="#3c56c8" stroke-width="1.3"/>
<path d="M351.1 205.2l1.8 0.3l0.0 1.6l-0.4 -0.8" stroke="#2a76c8" stroke-width="1.2"/>
<path d="M348.5 205.5l-0.5 0.6l-0.7 -1.5l-0.8 0.1" stroke="#4a40c0" stroke-width="0.9"/>
<path d="M343.4 206.7l-0.4 -1.1l-1.6 -0.5l-0.7 -0.1" stroke="#3a7ad8" stroke-width="0.9"/>
<path d="M338.5 217.5l0.4 -1.6l0.8 -0.6l-1.0 1.9" stroke="#7a4ed8" stroke-width="1.2"/>
<path d="M336.6 219.6l0.4 0.4l-0.7 -0.0l0.1 1.0" stroke="#6a3ec8" stroke-width="0.8"/>
<path d="M350.2 200.2l1.8 0.6l-0.5 -1.6l0.3 -1.6" stroke="#6a3ac0" stroke-width="1.0"/>
<path d="M346.2 202.6l-0.7 -0.7l1.3 1.2l0.6 -1.8" stroke="#2e86c0" stroke-width="1.3"/>
<path d="M352.7 200.3l0.6 -1.9l1.7 1.0l0.3 -2.0" stroke="#3a7ad8" stroke-width="1.2"/>
<path d="M346.0 209.9l0.5 1.7l1.3 -1.3l-1.7 0.7" stroke="#38a8b8" stroke-width="0.9"/>
<path d="M339.6 218.5l-0.7 0.9l-1.7 -1.5l1.3 0.7" stroke="#4a40c0" stroke-width="1.1"/>
<path d="M352.9 202.9l-0.4 0.8l0.6 -1.5l1.5 -1.6" stroke="#4468d8" stroke-width="1.0"/>
<path d="M348.3 200.7l-0.1 -1.9l-0.3 -0.5l0.7 1.7" stroke="#2e86c0" stroke-width="1.1"/>
<path d="M339.7 216.0l0.0 -0.1l0.2 1.4l1.1 -0.7" stroke="#7a4ed8" stroke-width="0.8"/>
<path d="M338.0 220.0l0.1 -0.4l0.3 1.4l-0.6 0.3" stroke="#6a3ac0" stroke-width="1.1"/>
<path d="M335.6 224.3l-1.6 -0.0l0.5 -0.6l-0.4 -1.8" stroke="#3a7ad8" stroke-width="1.4"/>
<path d="M337.3 218.7l-0.3 0.5l0.2 1.9l1.6 -0.2" stroke="#6a3ec8" stroke-width="1.1"/>
<path d="M346.2 202.8l0.5 0.7l0.0 -1.4l2.0 -0.6" stroke="#6a3ac0" stroke-width="0.9"/>
<path d="M345.0 212.0l-0.6 -0.8l-1.0 -1.4l1.9 1.4" stroke="#6a3ac0" stroke-width="1.2"/>
<path d="M345.5 206.7l1.1 0.3l1.6 1.7l0.8 -0.5" stroke="#5a4ad0" stroke-width="1.4"/>
<path d="M339.8 217.2l1.9 -1.6l-0.6 -1.3l1.6 0.7" stroke="#8a4ad0" stroke-width="1.0"/>
<path d="M338.0 209.8l-0.1 -0.9l-0.9 -0.9l0.0 1.5" stroke="#2e86c0" stroke-width="0.9"/>
<path d="M334.6 219.0l1.2 -1.3l1.0 0.8l0.4 0.6" stroke="#2a76c8" stroke-width="1.0"/>
<path d="M346.2 210.4l-0.5 1.1l-1.1 -0.2l-0.5 0.9" stroke="#6a3ac0" stroke-width="1.4"/>
<path d="M344.3 212.1l-1.7 0.2l0.3 1.7l1.0 -0.8" stroke="#6a3ec8" stroke-width="0.8"/>
<path d="M335.6 222.6l-1.2 -0.5l-0.6 -1.4l1.8 0.7" stroke="#4468d8" stroke-width="0.9"/>
<path d="M341.8 206.7l1.7 0.2l-0.3 0.7l-1.7 0.8" stroke="#6a3ac0" stroke-width="1.2"/>
<path d="M331.8 219.6l-1.6 -1.4l-1.2 0.8l-1.9 1.8" stroke="#8a4ad0" stroke-width="1.3"/>
<path d="M349.1 199.3l0.8 1.8l1.9 1.8l1.7 1.4" stroke="#6a3ec8" stroke-width="1.4"/>
<path d="M352.4 199.0l1.2 2.0l0.3 1.6l-0.7 -1.3" stroke="#4a40c0" stroke-width="1.3"/>
<path d="M348.2 201.3l1.5 1.8l-1.9 -1.9l1.3 0.8" stroke="#2e86c0" stroke-width="1.1"/>
<path d="M341.8 213.2l0.7 -1.7l-0.5 1.8l-1.1 -0.4" stroke="#6a3ac0" stroke-width="0.9"/>
<path d="M345.1 206.7l-1.0 -1.8l-0.5 0.9l0.1 -0.6" stroke="#6a3ac0" stroke-width="1.2"/>
<path d="M333.0 220.7l-1.3 -1.4l-1.0 -0.1l1.1 -0.7" stroke="#7a4ed8" stroke-width="0.9"/>
<path d="M340.1 214.9l0.3 -1.9l-0.8 -1.7l0.0 1.0" stroke="#2e86c0" stroke-width="0.9"/>
<path d="M348.9 197.1l0.2 -1.7l1.1 -1.0l-1.1 -0.3" stroke="#6a3ec8" stroke-width="1.4"/>
<path d="M347.8 209.3l2.0 -0.3l0.7 -1.1l2.0 -1.2" stroke="#7a4ed8" stroke-width="1.3"/>
<path d="M338.3 210.1l-1.7 1.9l1.6 -1.8l-1.9 1.8" stroke="#8a4ad0" stroke-width="1.1"/>
<path d="M348.0 201.2l1.8 1.7l-0.6 1.7l-1.4 0.9" stroke="#4a40c0" stroke-width="1.4"/>
<path d="M347.9 202.5l0.8 -1.1l1.4 1.5l0.7 -0.5" stroke="#5a4ad0" stroke-width="1.2"/>
<path d="M332.7 220.1l0.9 0.7l-1.5 -0.7l0.3 -0.9" stroke="#5a4ad0" stroke-width="1.1"/>
<path d="M333.9 216.8l1.0 0.1l1.8 -1.7l-1.1 -1.7" stroke="#4a40c0" stroke-width="1.0"/>
<path d="M336.0 216.1l1.9 0.6l-1.6 -0.1l1.6 0.4" stroke="#5a4ad0" stroke-width="1.0"/>
<path d="M334.8 224.4l-0.1 -1.2l1.8 1.9l-1.9 1.1" stroke="#4a40c0" stroke-width="1.0"/>
<path d="M350.3 198.7l1.3 1.8l-1.9 -0.3l1.8 0.4" stroke="#8a4ad0" stroke-width="0.8"/>
<path d="M350.4 197.8l-1.9 -0.8l-1.8 -1.0l0.5 -0.5" stroke="#3a7ad8" stroke-width="1.1"/>
<path d="M341.3 214.5l0.3 -0.3l0.2 -0.2l-0.7 1.7" stroke="#5a60e0" stroke-width="0.9"/>
<path d="M333.2 221.0l-1.3 0.0l1.9 -0.8l-1.3 0.9" stroke="#38a8b8" stroke-width="0.9"/>
<path d="M338.7 211.2l0.6 0.5l-2.0 -0.1l-1.6 1.0" stroke="#2e86c0" stroke-width="1.3"/>
<path d="M336.1 212.0l-2.0 -0.0l-0.9 0.3l0.5 -0.2" stroke="#38a8b8" stroke-width="0.9"/>
<path d="M345.6 212.7l-0.9 -0.2l-1.7 1.2l-1.1 1.3" stroke="#3c56c8" stroke-width="1.3"/>
<path d="M346.9 204.2l0.0 -0.3l0.2 1.8l-0.0 -0.1" stroke="#38a8b8" stroke-width="1.0"/>
<path d="M338.3 220.9l0.6 0.8l-0.2 -0.8l0.7 -1.5" stroke="#6a3ec8" stroke-width="0.9"/>
<path d="M338.6 216.8l1.2 1.2l-1.3 1.3l-0.8 -1.0" stroke="#2e86c0" stroke-width="1.4"/>
<path d="M353.2 199.7l0.6 0.7l-0.4 1.8l1.5 1.9" stroke="#6a3ac0" stroke-width="0.9"/>
<path d="M347.3 204.7l1.5 -0.8l-1.3 0.8l1.0 1.9" stroke="#2e86c0" stroke-width="1.2"/>
<path d="M349.7 201.1l1.1 1.1l1.5 0.3l1.8 0.6" stroke="#7a4ed8" stroke-width="1.1"/>
<path d="M345.5 208.3l-1.8 1.5l-0.0 1.9l-1.1 0.5" stroke="#3a7ad8" stroke-width="0.9"/>
<path d="M351.0 203.2l-1.3 0.6l0.7 1.8l-0.7 1.7" stroke="#8a4ad0" stroke-width="1.3"/>
<path d="M345.7 204.7l0.5 1.9l1.1 -0.7l-0.9 0.1" stroke="#5a60e0" stroke-width="1.1"/>
<path d="M349.7 197.7l1.0 0.1l-0.8 1.7l-0.5 -0.3" stroke="#4a40c0" stroke-width="1.0"/>
<path d="M347.5 207.9l-0.8 1.4l1.4 0.1l-1.1 1.7" stroke="#3a7ad8" stroke-width="1.3"/>
<path d="M333.4 220.4l0.7 1.0l0.2 0.6l1.8 1.6" stroke="#4a40c0" stroke-width="1.0"/>
<path d="M341.1 211.2l0.1 -1.2l1.1 -1.8l-1.4 0.2" stroke="#3c56c8" stroke-width="1.0"/>
<path d="M339.0 216.7l1.2 -1.8l-1.8 -1.8l1.9 1.8" stroke="#6a3ac0" stroke-width="0.9"/>
<path d="M348.9 205.6l0.2 -2.0l-0.1 0.5l1.5 2.0" stroke="#3c56c8" stroke-width="1.1"/>
<path d="M337.5 218.1l0.7 0.5l-1.8 0.8l-1.5 -1.8" stroke="#6a3ec8" stroke-width="1.1"/>
<path d="M348.0 195.8l1.0 0.9l0.5 -1.2l-1.0 1.0" stroke="#4468d8" stroke-width="1.4"/>
<path d="M333.5 218.8l-0.8 -1.1l1.5 0.0l-0.4 -0.4" stroke="#3a7ad8" stroke-width="1.3"/>
<path d="M348.4 205.4l-1.6 -0.9l-1.2 0.7l-1.2 -0.3" stroke="#6a3ac0" stroke-width="0.9"/>
<path d="M349.6 197.1l-0.2 -0.1l1.5 -0.2l-0.5 1.6" stroke="#4468d8" stroke-width="1.4"/>
<path d="M339.5 219.6l1.5 -1.7l-1.1 -1.1l0.4 0.4" stroke="#7a4ed8" stroke-width="1.4"/>
<path d="M343.2 209.4l1.1 0.2l1.9 -0.6l0.8 -1.9" stroke="#5a60e0" stroke-width="1.0"/>
<path d="M336.4 216.6l-1.6 -0.5l1.5 -0.8l1.8 1.0" stroke="#2e86c0" stroke-width="1.1"/>
<path d="M341.5 209.9l-0.4 0.4l0.8 1.0l1.0 0.3" stroke="#38a8b8" stroke-width="1.0"/>
<path d="M338.6 215.8l-0.4 -1.4l-1.9 1.0l0.3 1.2" stroke="#2a76c8" stroke-width="1.1"/>
<path d="M351.4 198.3l-0.7 1.7l1.2 -0.0l-0.1 1.6" stroke="#4a40c0" stroke-width="1.4"/>
<path d="M341.3 216.6l0.4 -0.2l0.1 2.0l0.3 1.8" stroke="#4468d8" stroke-width="1.0"/>
<path d="M336.6 216.5l-1.3 -0.5l-1.1 0.8l-1.4 0.3" stroke="#8a4ad0" stroke-width="1.1"/>
<path d="M341.3 211.3l0.6 -1.4l-0.8 1.5l1.7 -1.0" stroke="#7a4ed8" stroke-width="0.9"/>
<path d="M346.8 198.8l-1.2 -1.9l-1.8 0.3l0.7 -0.8" stroke="#8a4ad0" stroke-width="1.0"/>
<path d="M338.7 212.8l0.8 -0.7l1.5 -1.1l-0.1 -0.7" stroke="#3a7ad8" stroke-width="1.1"/>
<path d="M339.5 220.6l-1.1 -1.1l0.5 -1.4l1.9 -0.6" stroke="#3a7ad8" stroke-width="1.1"/>
<path d="M345.1 209.8l1.7 0.7l-1.3 -0.6l0.8 -1.1" stroke="#5a4ad0" stroke-width="1.3"/>
<path d="M320.2 215.5L323.5 208.2" stroke="#9a3cc0" stroke-width="1.4"/>
<path d="M330.2 216.2L333.6 206.1" stroke="#d83c7c" stroke-width="0.9"/>
<path d="M330.8 199.3L334.6 189.5" stroke="#d83c7c" stroke-width="1.5"/>
<path d="M324.2 188.9L326.0 183.3" stroke="#c02a9a" stroke-width="1.3"/>
<path d="M323.9 189.9L328.5 181.0" stroke="#c8287c" stroke-width="1.1"/>
<path d="M324.8 205.6L328.2 198.3" stroke="#e0489a" stroke-width="1.1"/>
<path d="M328.7 188.3L332.3 180.8" stroke="#c02a9a" stroke-width="1.0"/>
<path d="M324.9 215.1L328.5 206.9" stroke="#c8287c" stroke-width="1.5"/>
<path d="M324.4 214.2L328.6 204.8" stroke="#c8287c" stroke-width="1.2"/>
<path d="M327.4 204.4L330.6 195.9" stroke="#c8287c" stroke-width="1.5"/>
<path d="M321.7 214.5L324.6 207.4" stroke="#9a3cc0" stroke-width="1.5"/>
<path d="M323.8 207.2L325.7 200.5" stroke="#c8287c" stroke-width="1.3"/>
<path d="M324.8 204.0L330.1 193.6" stroke="#d83c7c" stroke-width="1.3"/>
<path d="M334.8 217.6L338.0 206.5" stroke="#d0308c" stroke-width="1.0"/>
<path d="M324.8 205.0L327.8 197.1" stroke="#d0308c" stroke-width="1.5"/>
<path d="M338.2 203.5L339.7 197.5" stroke="#d0308c" stroke-width="1.5"/>
<path d="M329.7 214.4L333.6 204.6" stroke="#b03ab8" stroke-width="1.3"/>
<path d="M318.5 206.0L323.2 196.9" stroke="#9a3cc0" stroke-width="1.5"/>
<path d="M321.6 209.5L324.5 201.5" stroke="#e0489a" stroke-width="1.6"/>
<path d="M328.0 216.2L329.8 210.6" stroke="#c02a9a" stroke-width="1.3"/>
<path d="M326.9 195.1L328.8 188.5" stroke="#d83c7c" stroke-width="1.0"/>
<path d="M322.5 209.5L325.8 199.1" stroke="#c8287c" stroke-width="1.0"/>
<path d="M333.6 199.9L336.6 190.1" stroke="#9a3cc0" stroke-width="0.9"/>
<path d="M329.2 194.7L333.9 183.9" stroke="#e0489a" stroke-width="1.5"/>
<path d="M323.0 210.5L326.0 204.8" stroke="#9a3cc0" stroke-width="0.9"/>
<path d="M324.7 207.0L329.3 197.0" stroke="#9a3cc0" stroke-width="1.4"/>
<path d="M332.2 200.1L334.2 194.5" stroke="#e0489a" stroke-width="1.5"/>
<path d="M318.7 208.7L321.6 202.4" stroke="#e0489a" stroke-width="1.6"/>
<path d="M319.7 209.9L322.8 200.6" stroke="#9a3cc0" stroke-width="1.2"/>
<path d="M326.9 209.7L329.1 204.1" stroke="#b03ab8" stroke-width="1.0"/>
<path d="M322.7 195.9L325.4 188.4" stroke="#d83c7c" stroke-width="1.1"/>
<path d="M331.4 194.0L336.4 183.6" stroke="#d83c7c" stroke-width="0.9"/>
<path d="M329.5 209.5L333.1 200.5" stroke="#b03ab8" stroke-width="1.4"/>
<path d="M338.3 189.3L340.9 183.9" stroke="#b03ab8" stroke-width="1.1"/>
<path d="M326.4 201.1L329.1 194.8" stroke="#d0308c" stroke-width="1.1"/>
<path d="M327.2 190.9L329.7 181.6" stroke="#c02a9a" stroke-width="1.5"/>
<path d="M321.8 199.1L323.4 193.3" stroke="#d83c7c" stroke-width="1.6"/>
<path d="M327.8 212.9L330.9 206.4" stroke="#b03ab8" stroke-width="1.0"/>
<path d="M333.0 193.5L335.9 187.4" stroke="#d83c7c" stroke-width="1.5"/>
<path d="M325.6 201.8L330.3 192.4" stroke="#d0308c" stroke-width="1.2"/>
<path d="M333.7 188.5L336.5 182.2" stroke="#d0308c" stroke-width="1.2"/>
<path d="M332.8 212.6L335.9 205.7" stroke="#9a3cc0" stroke-width="1.0"/>
<path d="M333.2 200.1L335.7 192.4" stroke="#9a3cc0" stroke-width="0.9"/>
<path d="M325.7 198.2L328.8 188.1" stroke="#9a3cc0" stroke-width="1.4"/>
<path d="M328.9 209.7L333.3 199.4" stroke="#e0489a" stroke-width="1.0"/>
<path d="M328.7 220.4L333.1 210.1" stroke="#d83c7c" stroke-width="1.4"/>
<path d="M334.1 207.6L338.7 197.2" stroke="#c02a9a" stroke-width="1.5"/>
<path d="M336.1 208.0L338.6 201.9" stroke="#d83c7c" stroke-width="1.0"/>
<path d="M329.3 212.8L332.1 204.8" stroke="#c02a9a" stroke-width="1.1"/>
<path d="M321.9 207.5L324.2 199.3" stroke="#d0308c" stroke-width="1.1"/>
<path d="M333.3 199.0L335.3 192.4" stroke="#c02a9a" stroke-width="1.2"/>
<path d="M332.4 206.5L334.4 200.3" stroke="#9a3cc0" stroke-width="1.1"/>
<path d="M338.4 197.2L342.8 188.5" stroke="#9a3cc0" stroke-width="1.5"/>
<path d="M319.8 213.6L323.0 205.5" stroke="#9a3cc0" stroke-width="1.2"/>
<path d="M327.8 197.9L330.2 190.5" stroke="#b03ab8" stroke-width="1.3"/>
<path d="M335.5 208.6L338.0 199.0" stroke="#c02a9a" stroke-width="1.3"/>
<path d="M321.4 193.0L325.0 185.5" stroke="#9a3cc0" stroke-width="1.0"/>
<path d="M323.9 210.0L327.7 201.0" stroke="#d0308c" stroke-width="1.0"/>
<path d="M322.4 209.0L325.1 202.2" stroke="#c8287c" stroke-width="1.2"/>
<path d="M333.8 190.3L336.3 185.0" stroke="#d0308c" stroke-width="1.3"/>
<path d="M318.9 214.8L322.5 207.7" stroke="#9a3cc0" stroke-width="1.5"/>
<path d="M322.0 199.8L325.0 190.3" stroke="#b03ab8" stroke-width="1.3"/>
<path d="M334.8 207.5L337.3 197.7" stroke="#e0489a" stroke-width="1.2"/>
<path d="M328.4 196.5L331.0 189.9" stroke="#c8287c" stroke-width="1.1"/>
<path d="M327.1 207.2L331.2 199.2" stroke="#c02a9a" stroke-width="1.2"/>
<path d="M321.1 201.3L324.7 190.1" stroke="#d0308c" stroke-width="1.2"/>
<path d="M334.4 204.1L336.5 196.2" stroke="#b03ab8" stroke-width="1.6"/>
<path d="M333.8 208.6L336.5 203.0" stroke="#9a3cc0" stroke-width="1.2"/>
<path d="M334.5 189.6L337.5 183.6" stroke="#b03ab8" stroke-width="1.0"/>
<path d="M322.9 195.9L326.8 186.9" stroke="#b03ab8" stroke-width="1.5"/>
</g>
<rect x="549.3" y="44.1" width="14.2" height="172.8" fill="#fbe3d3"/>
<polyline points="451.0,204.5 451.6,204.4 452.2,204.3 452.8,204.1 453.4,204.3 454.0,204.4 454.6,204.7 455.2,204.3 455.8,204.3 456.4,204.4 457.0,204.3 457.6,203.8 458.2,204.0 458.8,204.1 459.4,204.4 460.0,203.9 460.6,204.3 461.2,204.2 461.8,204.5 462.4,204.5 463.0,204.5 463.6,204.2 464.2,203.6 464.8,203.0 465.4,203.6 466.0,203.6 466.6,203.9 467.2,203.9 467.8,203.6 468.4,203.8 469.0,203.1 469.6,203.3 470.2,202.9 470.8,203.7 471.4,204.3 472.0,204.5 472.6,204.3 473.2,203.8 473.8,204.1 474.4,203.7 475.0,203.3 475.6,202.7 476.2,203.0 476.8,203.9 477.4,204.4 478.0,204.2 478.6,204.1 479.2,204.1 479.8,204.3 480.4,203.9 481.0,203.8 481.6,203.7 482.2,203.2 482.8,203.4 483.4,203.4 484.0,204.1 484.6,203.9 485.2,203.4 485.8,203.1 486.4,203.6 487.0,203.9 487.6,203.8 488.2,203.1 488.8,202.9 489.4,203.0 490.0,203.0 490.6,203.6 491.2,203.6 491.8,203.9 492.4,203.9 493.0,204.3 493.6,204.3 494.2,204.0 494.8,203.8 495.4,203.7 496.0,203.1 496.6,203.0 497.2,203.1 497.8,203.6 498.4,203.1 499.0,202.7 499.6,202.4 500.2,202.4 500.8,202.7 501.4,203.1 502.0,203.2 502.6,202.9 503.2,202.7 503.8,202.6 504.4,202.6 505.0,202.4 505.6,202.5 506.2,203.2 506.8,203.7 507.4,203.7 508.0,203.2 508.6,202.9 509.2,203.1 509.8,203.3 510.4,203.1 511.0,203.1 511.6,202.8 512.2,203.4 512.8,203.3 513.4,203.7 514.0,202.9 514.6,202.2 515.2,201.1 515.8,200.7 516.4,200.3 517.0,199.8 517.6,200.1 518.2,200.8 518.8,201.8 519.4,202.3 520.0,203.1 520.6,203.3 521.2,203.4 521.8,203.2 522.4,203.4 523.0,203.6 523.6,203.6 524.2,203.7 524.8,203.8 525.4,203.9 526.0,203.9 526.6,203.6 527.2,203.3 527.8,203.2 528.4,203.4 529.0,203.2 529.6,202.9 530.2,202.9 530.8,202.8 531.4,202.8 532.0,202.9 532.6,203.0 533.2,203.6 533.8,203.4 534.4,203.3 535.0,202.8 535.6,202.8 536.2,203.0 536.8,203.1 537.4,203.2 538.0,202.9 538.6,203.1 539.2,202.7 539.8,203.0 540.4,203.2 541.0,203.9 541.6,204.3 542.2,203.8 542.8,203.7 543.4,203.5 544.0,204.1 544.6,203.7 545.2,203.4 545.8,203.6 546.4,203.3 547.0,203.2 547.6,202.6 548.2,201.6 548.8,199.6 549.4,196.1 550.0,193.2 550.6,190.3 551.2,189.5 551.8,190.0 552.4,191.7 553.0,192.8 553.6,193.7 554.2,194.1 554.8,194.1 555.4,192.9 556.0,191.4 556.6,189.5 557.2,188.7 557.8,188.5 558.4,189.9 559.0,191.5 559.6,192.7 560.2,193.3 560.8,194.3 561.4,195.0 562.0,195.8 562.6,195.6 563.2,195.4 563.8,195.2 564.4,194.7 565.0,194.1 565.6,194.0 566.2,193.2 566.8,193.1 567.4,191.8 568.0,190.7 568.6,188.1 569.2,185.5 569.8,181.9 570.4,178.4 571.0,174.5 571.6,171.9 572.2,169.9 572.8,169.1 573.4,169.2 574.0,170.9 574.6,173.3 575.2,176.7 575.8,180.3 576.4,183.7 577.0,186.6 577.6,188.4 578.2,189.9 578.8,190.9 579.4,191.8 580.0,192.8 580.6,193.5 581.2,194.6 581.8,194.9 582.4,195.3 583.0,195.1 583.6,195.6 584.2,196.2 584.8,196.6 585.4,196.9 586.0,197.2 586.6,197.6 587.2,197.8 587.8,198.1 588.4,198.5 589.0,198.9 589.6,199.3 590.2,199.8 590.8,199.7 591.4,199.2 592.0,198.7 592.6,198.3 593.2,197.6 593.8,197.4 594.4,197.1 595.0,197.3 595.6,196.3 596.2,196.2 596.8,195.5 597.4,195.3 598.0,194.3 598.6,194.1 599.2,193.7 599.8,193.6 600.4,193.4 601.0,193.1 601.6,193.0 602.2,192.4 602.8,191.9 603.4,191.6 604.0,192.0 604.6,192.8 605.2,193.2 605.8,192.8 606.4,192.8 607.0,193.1 607.6,193.8 608.2,193.8 608.8,193.8 609.4,194.0 610.0,194.6 610.6,194.8 611.2,195.6 611.8,195.8 612.4,196.0 613.0,195.9 613.6,196.0 614.2,195.8 614.8,195.4 615.4,194.4 616.0,194.5 616.6,194.3 617.2,194.1 617.8,193.3 618.4,193.2 619.0,193.7 619.6,193.9 620.2,193.9 620.8,193.2 621.4,192.7 622.0,192.6 622.6,192.8 623.2,192.9 623.8,192.8 624.4,192.2 625.0,191.9 625.6,191.7 626.2,192.1 626.8,192.0 627.4,192.0 628.0,191.2 628.6,191.0 629.2,190.4 629.8,190.0 630.4,189.7 631.0,189.8 631.6,189.9 632.2,189.6 632.8,189.6 633.4,189.4 634.0,189.2 634.6,188.9 635.2,189.1 635.8,190.0 636.4,190.5 637.0,190.8 637.6,190.5 638.2,191.3 638.8,191.6 639.4,191.7 640.0,191.3 640.6,191.8 641.2,192.3 641.8,192.2 642.4,191.9 643.0,192.2 643.6,192.6 644.2,192.7 644.8,193.0 645.4,193.4 646.0,193.8 646.6,193.4 647.2,193.1 647.8,192.9 648.4,192.4 649.0,192.3 649.6,192.0 650.2,192.2 650.8,191.7 651.4,191.8 652.0,191.6 652.6,192.2 653.2,191.8 653.8,191.3 654.4,190.6 655.0,190.5 655.6,190.6 656.2,190.8 656.8,191.1 657.4,191.6 658.0,191.3 658.6,191.7 659.2,191.7 659.8,191.7 660.4,190.5 661.0,189.9 661.6,189.9 662.2,189.8 662.8,189.8 663.4,189.7 664.0,190.1 664.6,190.5 665.2,191.1 665.8,191.5 666.4,191.8 667.0,191.7 667.6,192.0 668.2,192.2 668.8,192.7 669.4,193.0 670.0,192.6 670.6,192.8 671.2,192.5 671.8,193.0 672.4,193.0 673.0,193.1 673.6,192.6 674.2,191.6 674.8,191.6 675.4,191.7 676.0,191.8 676.6,191.3 677.2,190.8 677.8,190.1 678.4,189.2 679.0,187.9 679.6,187.1 680.2,186.8 680.8,187.2" fill="none" stroke="#454545" stroke-width="2.4" stroke-linejoin="round" stroke-linecap="round"/>
<polyline points="451.0,186.9 451.6,187.1 452.2,187.2 452.8,187.5 453.4,187.5 454.0,187.7 454.6,187.6 455.2,187.4 455.8,187.0 456.4,187.1 457.0,187.0 457.6,187.0 458.2,187.1 458.8,186.9 459.4,187.3 460.0,187.0 460.6,187.2 461.2,187.3 461.8,187.2 462.4,186.8 463.0,186.6 463.6,186.8 464.2,187.0 464.8,186.9 465.4,186.8 466.0,186.5 466.6,186.4 467.2,186.1 467.8,186.6 468.4,186.6 469.0,186.6 469.6,186.5 470.2,186.4 470.8,186.5 471.4,186.5 472.0,186.6 472.6,186.5 473.2,186.7 473.8,186.8 474.4,186.9 475.0,186.9 475.6,186.8 476.2,186.8 476.8,186.7 477.4,186.9 478.0,186.7 478.6,186.6 479.2,186.7 479.8,187.0 480.4,187.0 481.0,186.9 481.6,186.5 482.2,186.8 482.8,186.8 483.4,187.0 484.0,186.4 484.6,186.3 485.2,185.9 485.8,186.3 486.4,186.3 487.0,186.3 487.6,186.5 488.2,186.8 488.8,186.5 489.4,186.4 490.0,186.1 490.6,186.5 491.2,186.5 491.8,186.2 492.4,186.1 493.0,186.3 493.6,186.6 494.2,186.8 494.8,186.5 495.4,186.4 496.0,186.3 496.6,186.5 497.2,186.5 497.8,186.4 498.4,186.4 499.0,186.2 499.6,186.4 500.2,186.5 500.8,186.5 501.4,186.5 502.0,186.1 502.6,186.5 503.2,186.6 503.8,186.7 504.4,186.7 505.0,186.5 505.6,186.4 506.2,186.2 506.8,186.2 507.4,186.3 508.0,186.4 508.6,186.3 509.2,186.5 509.8,186.6 510.4,186.7 511.0,186.3 511.6,186.3 512.2,186.5 512.8,186.7 513.4,186.4 514.0,186.3 514.6,186.6 515.2,186.5 515.8,186.5 516.4,186.2 517.0,186.4 517.6,186.4 518.2,186.3 518.8,186.4 519.4,186.6 520.0,186.8 520.6,186.6 521.2,186.2 521.8,185.9 522.4,185.8 523.0,186.3 523.6,186.5 524.2,186.6 524.8,186.2 525.4,186.0 526.0,186.1 526.6,186.2 527.2,186.6 527.8,186.5 528.4,186.6 529.0,186.4 529.6,186.7 530.2,187.0 530.8,186.9 531.4,186.7 532.0,186.5 532.6,186.6 533.2,186.6 533.8,186.4 534.4,186.2 535.0,186.1 535.6,186.1 536.2,186.5 536.8,186.4 537.4,186.4 538.0,186.2 538.6,186.1 539.2,186.2 539.8,186.3 540.4,186.2 541.0,185.9 541.6,185.8 542.2,186.0 542.8,186.2 543.4,186.2 544.0,186.2 544.6,186.3 545.2,186.0 545.8,186.0 546.4,185.6 547.0,185.5 547.6,185.3 548.2,184.8 548.8,183.5 549.4,181.4 550.0,179.4 550.6,178.1 551.2,177.3 551.8,177.6 552.4,178.2 553.0,179.8 553.6,180.7 554.2,181.3 554.8,180.8 555.4,180.2 556.0,179.1 556.6,177.7 557.2,176.8 557.8,176.6 558.4,177.6 559.0,178.6 559.6,179.7 560.2,180.5 560.8,181.4 561.4,181.8 562.0,181.7 562.6,181.5 563.2,181.3 563.8,181.6 564.4,181.6 565.0,181.7 565.6,181.1 566.2,180.5 566.8,179.8 567.4,178.9 568.0,177.6 568.6,175.4 569.2,172.7 569.8,169.4 570.4,166.0 571.0,162.1 571.6,158.8 572.2,156.5 572.8,155.6 573.4,156.5 574.0,158.3 574.6,161.2 575.2,164.3 575.8,167.6 576.4,170.6 577.0,173.7 577.6,176.0 578.2,178.1 578.8,179.4 579.4,180.3 580.0,181.1 580.6,181.4 581.2,182.1 581.8,182.2 582.4,182.6 583.0,182.6 583.6,183.0 584.2,183.0 584.8,183.3 585.4,183.3 586.0,183.5 586.6,183.6 587.2,183.7 587.8,183.8 588.4,183.7 589.0,183.7 589.6,183.7 590.2,183.9 590.8,183.9 591.4,183.5 592.0,183.6 592.6,183.2 593.2,183.2 593.8,182.9 594.4,182.7 595.0,182.5 595.6,181.9 596.2,181.6 596.8,181.1 597.4,180.9 598.0,180.8 598.6,180.8 599.2,180.6 599.8,180.0 600.4,179.5 601.0,179.0 601.6,178.9 602.2,178.8 602.8,178.6 603.4,178.6 604.0,178.7 604.6,178.9 605.2,179.2 605.8,179.3 606.4,179.6 607.0,179.8 607.6,180.1 608.2,180.3 608.8,180.1 609.4,180.5 610.0,180.2 610.6,180.2 611.2,179.8 611.8,180.5 612.4,180.8 613.0,181.0 613.6,180.5 614.2,180.3 614.8,180.3 615.4,180.2 616.0,179.8 616.6,179.5 617.2,179.5 617.8,179.6 618.4,179.7 619.0,179.5 619.6,179.0 620.2,178.9 620.8,178.6 621.4,178.8 622.0,178.7 622.6,178.5 623.2,178.2 623.8,178.0 624.4,177.9 625.0,177.8 625.6,177.0 626.2,176.7 626.8,176.6 627.4,177.0 628.0,176.7 628.6,176.3 629.2,175.8 629.8,175.8 630.4,175.5 631.0,175.4 631.6,174.9 632.2,174.9 632.8,174.5 633.4,174.7 634.0,174.8 634.6,175.2 635.2,175.4 635.8,175.8 636.4,175.8 637.0,176.1 637.6,176.2 638.2,176.6 638.8,176.8 639.4,177.0 640.0,177.4 640.6,177.3 641.2,177.3 641.8,177.5 642.4,178.0 643.0,178.4 643.6,178.6 644.2,178.3 644.8,178.2 645.4,178.2 646.0,178.7 646.6,178.8 647.2,178.9 647.8,178.5 648.4,179.0 649.0,179.4 649.6,179.6 650.2,179.7 650.8,179.8 651.4,180.1 652.0,180.0 652.6,179.7 653.2,179.5 653.8,179.9 654.4,180.0 655.0,180.6 655.6,180.6 656.2,180.7 656.8,180.6 657.4,180.6 658.0,180.8 658.6,181.0 659.2,180.7 659.8,180.9 660.4,180.7 661.0,180.7 661.6,180.4 662.2,180.6 662.8,181.3 663.4,181.3 664.0,181.1 664.6,181.1 665.2,181.1 665.8,181.3 666.4,180.8 667.0,180.6 667.6,180.9 668.2,181.0 668.8,181.1 669.4,180.8 670.0,181.0 670.6,180.9 671.2,181.0 671.8,180.6 672.4,180.6 673.0,180.2 673.6,180.2 674.2,180.2 674.8,180.2 675.4,179.8 676.0,179.3 676.6,179.2 677.2,179.1 677.8,179.2 678.4,179.0 679.0,178.7 679.6,178.7 680.2,178.6 680.8,178.8" fill="none" stroke="#e8403c" stroke-width="2.4" stroke-linejoin="round" stroke-linecap="round"/>
<polyline points="451.0,168.9 451.6,168.4 452.2,168.6 452.8,168.6 453.4,168.8 454.0,168.9 454.6,169.2 455.2,169.5 455.8,169.5 456.4,169.5 457.0,169.3 457.6,169.2 458.2,169.4 458.8,169.6 459.4,169.6 460.0,169.7 460.6,169.8 461.2,169.8 461.8,169.4 462.4,169.5 463.0,169.6 463.6,169.9 464.2,169.7 464.8,169.5 465.4,169.5 466.0,169.6 466.6,169.7 467.2,169.7 467.8,169.5 468.4,169.6 469.0,169.7 469.6,169.6 470.2,169.7 470.8,169.7 471.4,170.0 472.0,169.8 472.6,169.6 473.2,169.3 473.8,169.4 474.4,169.1 475.0,169.2 475.6,169.0 476.2,169.5 476.8,169.6 477.4,169.4 478.0,169.0 478.6,168.9 479.2,169.0 479.8,169.3 480.4,169.3 481.0,169.1 481.6,169.0 482.2,169.2 482.8,169.0 483.4,169.0 484.0,169.0 484.6,169.2 485.2,169.1 485.8,168.8 486.4,168.5 487.0,168.5 487.6,168.6 488.2,169.0 488.8,168.7 489.4,168.4 490.0,168.4 490.6,168.5 491.2,168.3 491.8,168.2 492.4,168.1 493.0,168.1 493.6,167.7 494.2,167.4 494.8,167.3 495.4,167.3 496.0,167.9 496.6,168.2 497.2,168.4 497.8,168.3 498.4,168.0 499.0,168.0 499.6,168.3 500.2,168.0 500.8,167.8 501.4,167.3 502.0,167.7 502.6,167.9 503.2,168.2 503.8,168.0 504.4,168.0 505.0,168.0 505.6,168.1 506.2,168.2 506.8,168.6 507.4,168.8 508.0,168.8 508.6,168.5 509.2,168.7 509.8,169.0 510.4,169.1 511.0,169.1 511.6,169.3 512.2,169.0 512.8,168.8 513.4,168.2 514.0,168.5 514.6,168.6 515.2,168.8 515.8,168.6 516.4,168.8 517.0,168.9 517.6,168.9 518.2,169.1 518.8,168.9 519.4,168.8 520.0,169.0 520.6,169.2 521.2,169.3 521.8,168.7 522.4,168.8 523.0,169.0 523.6,169.3 524.2,169.4 524.8,169.3 525.4,168.9 526.0,168.8 526.6,169.2 527.2,169.6 527.8,169.6 528.4,169.5 529.0,169.2 529.6,169.2 530.2,168.8 530.8,168.8 531.4,168.8 532.0,168.9 532.6,169.1 533.2,169.3 533.8,169.6 534.4,169.3 535.0,168.8 535.6,168.4 536.2,168.2 536.8,168.3 537.4,168.4 538.0,168.6 538.6,168.6 539.2,168.5 539.8,168.3 540.4,168.1 541.0,168.3 541.6,168.5 542.2,168.4 542.8,167.9 543.4,167.5 544.0,167.6 544.6,168.0 545.2,168.2 545.8,168.3 546.4,168.2 547.0,168.1 547.6,167.8 548.2,166.9 548.8,165.3 549.4,162.9 550.0,160.6 550.6,159.1 551.2,158.4 551.8,158.7 552.4,159.8 553.0,161.2 553.6,162.1 554.2,162.5 554.8,162.4 555.4,161.8 556.0,160.2 556.6,158.8 557.2,157.6 557.8,157.6 558.4,158.5 559.0,159.9 559.6,161.0 560.2,161.8 560.8,161.9 561.4,162.2 562.0,162.2 562.6,162.3 563.2,161.9 563.8,161.6 564.4,161.2 565.0,161.2 565.6,160.9 566.2,160.4 566.8,159.5 567.4,158.5 568.0,157.2 568.6,155.2 569.2,152.3 569.8,148.7 570.4,144.8 571.0,141.3 571.6,138.4 572.2,136.3 572.8,135.3 573.4,135.4 574.0,136.6 574.6,139.0 575.2,142.0 575.8,145.8 576.4,149.3 577.0,151.8 577.6,153.6 578.2,154.9 578.8,155.8 579.4,156.3 580.0,156.4 580.6,156.9 581.2,156.9 581.8,157.2 582.4,157.0 583.0,157.3 583.6,157.3 584.2,157.1 584.8,156.9 585.4,156.9 586.0,157.2 586.6,157.7 587.2,158.0 587.8,158.6 588.4,158.9 589.0,159.2 589.6,159.6 590.2,160.3 590.8,160.3 591.4,160.7 592.0,160.9 592.6,161.3 593.2,161.1 593.8,161.1 594.4,161.1 595.0,161.1 595.6,160.8 596.2,160.5 596.8,160.1 597.4,159.6 598.0,159.5 598.6,159.4 599.2,159.2 599.8,158.8 600.4,158.1 601.0,157.9 601.6,157.6 602.2,157.4 602.8,156.5 603.4,156.2 604.0,155.6 604.6,155.4 605.2,154.7 605.8,154.6 606.4,154.6 607.0,154.7 607.6,154.7 608.2,154.9 608.8,155.0 609.4,155.1 610.0,155.1 610.6,155.3 611.2,155.7 611.8,155.8 612.4,156.3 613.0,156.5 613.6,156.6 614.2,156.6 614.8,156.4 615.4,156.6 616.0,156.5 616.6,156.5 617.2,156.6 617.8,156.6 618.4,156.2 619.0,155.8 619.6,155.5 620.2,155.6 620.8,155.1 621.4,155.0 622.0,154.5 622.6,155.0 623.2,154.5 623.8,154.1 624.4,153.7 625.0,153.8 625.6,153.8 626.2,153.2 626.8,153.0 627.4,152.5 628.0,152.6 628.6,152.1 629.2,151.9 629.8,151.7 630.4,151.6 631.0,151.7 631.6,151.8 632.2,151.7 632.8,151.5 633.4,151.5 634.0,151.9 634.6,152.5 635.2,152.8 635.8,152.9 636.4,153.1 637.0,153.5 637.6,153.9 638.2,153.8 638.8,153.7 639.4,153.9 640.0,154.5 640.6,155.1 641.2,154.7 641.8,154.6 642.4,154.0 643.0,154.8 643.6,155.1 644.2,156.0 644.8,156.0 645.4,156.1 646.0,155.7 646.6,155.5 647.2,155.0 647.8,154.8 648.4,154.3 649.0,153.8 649.6,153.1 650.2,152.7 650.8,152.3 651.4,151.8 652.0,151.2 652.6,150.7 653.2,149.9 653.8,149.1 654.4,148.4 655.0,148.0 655.6,147.7 656.2,147.2 656.8,146.9 657.4,146.9 658.0,147.5 658.6,148.3 659.2,149.2 659.8,149.7 660.4,150.3 661.0,150.2 661.6,151.1 662.2,151.9 662.8,152.9 663.4,153.4 664.0,153.8 664.6,154.4 665.2,154.9 665.8,155.4 666.4,155.2 667.0,155.7 667.6,155.9 668.2,156.1 668.8,155.5 669.4,154.9 670.0,154.5 670.6,154.3 671.2,154.0 671.8,153.5 672.4,153.0 673.0,152.7 673.6,151.8 674.2,150.9 674.8,149.8 675.4,149.4 676.0,148.9 676.6,148.8 677.2,148.6 677.8,148.5 678.4,147.9 679.0,147.6 679.6,147.3 680.2,147.2 680.8,146.8" fill="none" stroke="#2263d8" stroke-width="2.4" stroke-linejoin="round" stroke-linecap="round"/>
<polyline points="451.0,149.6 451.6,149.4 452.2,149.8 452.8,149.4 453.4,149.8 454.0,149.6 454.6,149.7 455.2,149.5 455.8,149.7 456.4,149.7 457.0,149.3 457.6,149.2 458.2,149.0 458.8,149.1 459.4,149.0 460.0,148.7 460.6,148.9 461.2,148.8 461.8,148.8 462.4,148.8 463.0,148.6 463.6,148.7 464.2,148.5 464.8,148.6 465.4,148.7 466.0,148.8 466.6,148.7 467.2,148.4 467.8,148.3 468.4,148.4 469.0,148.5 469.6,148.6 470.2,148.5 470.8,148.5 471.4,148.5 472.0,148.6 472.6,148.6 473.2,148.5 473.8,148.4 474.4,148.6 475.0,148.7 475.6,148.6 476.2,148.5 476.8,148.1 477.4,148.1 478.0,148.1 478.6,148.3 479.2,148.5 479.8,148.5 480.4,148.2 481.0,148.2 481.6,148.2 482.2,148.4 482.8,148.3 483.4,148.4 484.0,148.5 484.6,148.5 485.2,148.4 485.8,148.4 486.4,148.2 487.0,148.3 487.6,148.4 488.2,148.5 488.8,148.3 489.4,148.3 490.0,148.3 490.6,148.6 491.2,148.4 491.8,148.3 492.4,148.2 493.0,148.0 493.6,148.2 494.2,148.1 494.8,148.2 495.4,147.9 496.0,148.2 496.6,148.3 497.2,148.3 497.8,148.1 498.4,148.0 499.0,148.2 499.6,148.0 500.2,148.0 500.8,147.9 501.4,148.0 502.0,147.9 502.6,148.0 503.2,148.3 503.8,148.3 504.4,148.3 505.0,148.0 505.6,148.1 506.2,148.1 506.8,148.0 507.4,147.9 508.0,147.9 508.6,147.9 509.2,147.9 509.8,147.9 510.4,147.9 511.0,147.9 511.6,147.8 512.2,148.1 512.8,148.0 513.4,148.2 514.0,148.1 514.6,148.4 515.2,148.4 515.8,148.4 516.4,148.3 517.0,148.0 517.6,147.8 518.2,147.6 518.8,147.8 519.4,148.1 520.0,148.0 520.6,148.0 521.2,147.7 521.8,147.7 522.4,148.0 523.0,148.1 523.6,148.5 524.2,148.5 524.8,148.4 525.4,148.0 526.0,148.1 526.6,148.1 527.2,148.2 527.8,148.1 528.4,148.1 529.0,148.2 529.6,148.1 530.2,148.1 530.8,148.1 531.4,148.3 532.0,148.2 532.6,148.1 533.2,148.1 533.8,148.1 534.4,148.3 535.0,148.2 535.6,148.1 536.2,147.8 536.8,148.0 537.4,147.8 538.0,148.0 538.6,147.7 539.2,147.9 539.8,147.9 540.4,147.8 541.0,147.7 541.6,147.4 542.2,147.8 542.8,147.7 543.4,147.7 544.0,147.4 544.6,147.6 545.2,147.9 545.8,148.1 546.4,147.8 547.0,147.6 547.6,147.4 548.2,146.8 548.8,145.6 549.4,143.8 550.0,142.0 550.6,140.8 551.2,140.3 551.8,140.7 552.4,141.4 553.0,142.3 553.6,143.0 554.2,143.1 554.8,142.8 555.4,141.9 556.0,141.2 556.6,140.2 557.2,139.4 557.8,139.1 558.4,139.7 559.0,140.9 559.6,142.0 560.2,142.6 560.8,142.8 561.4,142.8 562.0,142.8 562.6,142.9 563.2,142.9 563.8,142.9 564.4,142.5 565.0,142.1 565.6,141.9 566.2,141.5 566.8,140.9 567.4,139.7 568.0,138.1 568.6,135.7 569.2,132.7 569.8,129.2 570.4,125.4 571.0,121.5 571.6,118.1 572.2,115.5 572.8,114.3 573.4,114.7 574.0,116.7 574.6,119.8 575.2,123.4 575.8,127.1 576.4,130.6 577.0,133.7 577.6,135.9 578.2,137.7 578.8,139.0 579.4,140.2 580.0,140.7 580.6,141.0 581.2,141.3 581.8,141.4 582.4,142.1 583.0,142.3 583.6,142.7 584.2,142.4 584.8,142.6 585.4,142.6 586.0,143.1 586.6,143.4 587.2,143.6 587.8,143.4 588.4,143.5 589.0,143.5 589.6,144.0 590.2,144.1 590.8,144.4 591.4,144.4 592.0,144.1 592.6,144.4 593.2,144.3 593.8,144.4 594.4,143.8 595.0,143.6 595.6,143.1 596.2,143.0 596.8,142.8 597.4,142.8 598.0,142.8 598.6,142.6 599.2,142.4 599.8,142.1 600.4,142.1 601.0,141.8 601.6,141.8 602.2,141.1 602.8,141.0 603.4,141.0 604.0,141.3 604.6,142.0 605.2,142.5 605.8,142.5 606.4,142.2 607.0,142.1 607.6,142.7 608.2,143.1 608.8,143.2 609.4,142.9 610.0,142.7 610.6,142.4 611.2,142.5 611.8,142.7 612.4,143.2 613.0,143.3 613.6,143.3 614.2,143.4 614.8,143.5 615.4,143.3 616.0,143.1 616.6,143.0 617.2,142.9 617.8,142.7 618.4,142.4 619.0,142.3 619.6,142.2 620.2,142.3 620.8,142.3 621.4,142.4 622.0,142.3 622.6,142.3 623.2,142.2 623.8,141.9 624.4,141.6 625.0,141.5 625.6,141.2 626.2,141.0 626.8,140.4 627.4,140.4 628.0,140.3 628.6,140.4 629.2,140.1 629.8,139.7 630.4,139.4 631.0,139.4 631.6,139.5 632.2,139.2 632.8,139.1 633.4,139.3 634.0,139.4 634.6,139.3 635.2,139.2 635.8,139.4 636.4,139.5 637.0,139.8 637.6,139.9 638.2,140.4 638.8,140.5 639.4,140.7 640.0,141.0 640.6,141.0 641.2,141.1 641.8,141.1 642.4,141.4 643.0,141.7 643.6,141.7 644.2,141.8 644.8,142.0 645.4,142.5 646.0,142.6 646.6,142.7 647.2,142.5 647.8,142.5 648.4,142.6 649.0,142.8 649.6,142.9 650.2,142.8 650.8,142.6 651.4,142.9 652.0,142.9 652.6,143.2 653.2,142.9 653.8,143.1 654.4,142.9 655.0,142.8 655.6,142.8 656.2,143.0 656.8,143.1 657.4,143.1 658.0,143.0 658.6,143.1 659.2,143.1 659.8,143.0 660.4,143.1 661.0,143.3 661.6,143.4 662.2,143.3 662.8,143.3 663.4,143.5 664.0,143.4 664.6,143.1 665.2,143.1 665.8,143.1 666.4,143.3 667.0,143.0 667.6,143.2 668.2,143.0 668.8,143.3 669.4,143.0 670.0,142.9 670.6,142.7 671.2,142.7 671.8,142.8 672.4,142.9 673.0,143.0 673.6,143.0 674.2,142.8 674.8,142.6 675.4,142.5 676.0,142.7 676.6,142.6 677.2,142.5 677.8,142.2 678.4,142.2 679.0,142.2 679.6,141.9 680.2,141.8 680.8,141.6" fill="none" stroke="#3ca767" stroke-width="2.4" stroke-linejoin="round" stroke-linecap="round"/>
<polyline points="451.0,135.6 451.6,135.7 452.2,135.6 452.8,135.6 453.4,135.8 454.0,135.7 454.6,135.4 455.2,135.4 455.8,135.2 456.4,135.5 457.0,135.4 457.6,135.3 458.2,135.3 458.8,135.3 459.4,135.3 460.0,135.3 460.6,135.0 461.2,134.7 461.8,134.5 462.4,134.6 463.0,135.1 463.6,135.2 464.2,135.0 464.8,134.5 465.4,134.5 466.0,134.5 466.6,134.3 467.2,134.2 467.8,134.0 468.4,134.2 469.0,133.8 469.6,133.6 470.2,133.6 470.8,133.6 471.4,133.9 472.0,133.8 472.6,134.0 473.2,134.0 473.8,134.0 474.4,134.0 475.0,133.9 475.6,133.9 476.2,134.2 476.8,134.4 477.4,134.4 478.0,134.1 478.6,133.9 479.2,133.8 479.8,133.8 480.4,134.0 481.0,133.8 481.6,133.5 482.2,133.4 482.8,133.5 483.4,134.1 484.0,134.3 484.6,134.1 485.2,133.8 485.8,133.5 486.4,133.6 487.0,133.5 487.6,133.4 488.2,133.5 488.8,133.6 489.4,133.8 490.0,133.8 490.6,134.0 491.2,134.0 491.8,133.9 492.4,133.8 493.0,133.5 493.6,133.7 494.2,133.5 494.8,133.6 495.4,133.5 496.0,133.8 496.6,133.8 497.2,133.9 497.8,133.7 498.4,133.6 499.0,133.6 499.6,133.4 500.2,133.4 500.8,133.2 501.4,133.2 502.0,133.4 502.6,133.4 503.2,133.6 503.8,133.6 504.4,133.5 505.0,133.2 505.6,133.2 506.2,133.0 506.8,132.8 507.4,132.7 508.0,133.0 508.6,133.2 509.2,133.3 509.8,133.2 510.4,132.9 511.0,132.8 511.6,132.6 512.2,132.9 512.8,133.0 513.4,133.1 514.0,133.1 514.6,133.1 515.2,133.1 515.8,133.1 516.4,133.0 517.0,132.9 517.6,132.9 518.2,133.1 518.8,133.4 519.4,133.4 520.0,133.3 520.6,133.1 521.2,133.2 521.8,133.1 522.4,133.2 523.0,133.4 523.6,133.6 524.2,133.7 524.8,133.4 525.4,133.3 526.0,133.1 526.6,133.3 527.2,133.3 527.8,133.5 528.4,133.4 529.0,133.6 529.6,133.6 530.2,133.5 530.8,133.4 531.4,133.3 532.0,133.5 532.6,133.4 533.2,133.5 533.8,133.4 534.4,133.1 535.0,132.9 535.6,132.8 536.2,133.1 536.8,133.5 537.4,133.5 538.0,133.4 538.6,133.3 539.2,133.2 539.8,133.3 540.4,133.1 541.0,133.2 541.6,133.0 542.2,132.8 542.8,132.4 543.4,132.8 544.0,132.7 544.6,132.8 545.2,132.3 545.8,132.3 546.4,132.2 547.0,132.3 547.6,132.1 548.2,131.3 548.8,129.7 549.4,127.6 550.0,125.4 550.6,123.5 551.2,122.7 551.8,122.7 552.4,123.9 553.0,125.2 553.6,126.5 554.2,126.5 554.8,126.4 555.4,125.7 556.0,125.3 556.6,124.2 557.2,123.5 557.8,123.5 558.4,124.1 559.0,125.0 559.6,125.7 560.2,126.4 560.8,126.8 561.4,126.9 562.0,126.8 562.6,126.9 563.2,126.6 563.8,126.7 564.4,126.3 565.0,126.2 565.6,125.7 566.2,125.4 566.8,124.5 567.4,123.3 568.0,121.6 568.6,119.5 569.2,116.7 569.8,113.1 570.4,108.9 571.0,104.8 571.6,101.3 572.2,98.7 572.8,97.6 573.4,98.0 574.0,100.1 574.6,103.1 575.2,106.7 575.8,110.5 576.4,114.1 577.0,117.2 577.6,119.4 578.2,121.0 578.8,122.1 579.4,122.7 580.0,123.5 580.6,123.9 581.2,124.4 581.8,124.3 582.4,124.3 583.0,124.0 583.6,124.1 584.2,123.8 584.8,123.3 585.4,122.9 586.0,122.4 586.6,122.1 587.2,121.6 587.8,121.4 588.4,121.4 589.0,121.7 589.6,122.1 590.2,122.3 590.8,122.4 591.4,122.5 592.0,122.9 592.6,123.5 593.2,124.1 593.8,124.2 594.4,124.4 595.0,124.4 595.6,124.6 596.2,124.6 596.8,124.5 597.4,124.4 598.0,124.2 598.6,124.1 599.2,124.2 599.8,124.3 600.4,124.1 601.0,123.7 601.6,123.4 602.2,123.2 602.8,123.4 603.4,123.4 604.0,123.7 604.6,123.5 605.2,123.8 605.8,124.0 606.4,124.5 607.0,124.6 607.6,124.8 608.2,124.5 608.8,124.5 609.4,124.5 610.0,124.7 610.6,125.0 611.2,125.3 611.8,125.2 612.4,125.3 613.0,125.2 613.6,125.7 614.2,125.7 614.8,125.8 615.4,125.5 616.0,125.3 616.6,125.2 617.2,125.0 617.8,124.9 618.4,124.8 619.0,124.9 619.6,124.6 620.2,124.5 620.8,124.2 621.4,124.5 622.0,124.2 622.6,123.9 623.2,123.3 623.8,123.2 624.4,122.9 625.0,122.2 625.6,121.6 626.2,121.2 626.8,121.0 627.4,120.9 628.0,120.8 628.6,120.7 629.2,120.3 629.8,119.9 630.4,119.6 631.0,119.5 631.6,119.1 632.2,118.5 632.8,118.1 633.4,118.2 634.0,118.2 634.6,118.6 635.2,118.8 635.8,119.1 636.4,118.9 637.0,118.9 637.6,119.1 638.2,119.7 638.8,119.9 639.4,120.7 640.0,121.3 640.6,121.9 641.2,121.8 641.8,121.9 642.4,122.3 643.0,123.0 643.6,123.3 644.2,123.5 644.8,123.3 645.4,123.5 646.0,123.9 646.6,124.2 647.2,124.3 647.8,124.3 648.4,124.5 649.0,124.4 649.6,124.6 650.2,124.5 650.8,125.0 651.4,124.9 652.0,125.3 652.6,125.2 653.2,125.4 653.8,125.5 654.4,125.7 655.0,125.7 655.6,125.6 656.2,125.5 656.8,125.6 657.4,125.6 658.0,125.6 658.6,125.4 659.2,125.6 659.8,125.7 660.4,125.9 661.0,126.2 661.6,126.3 662.2,126.4 662.8,126.1 663.4,126.1 664.0,126.0 664.6,126.1 665.2,126.2 665.8,126.0 666.4,125.9 667.0,125.7 667.6,126.0 668.2,126.0 668.8,125.7 669.4,125.6 670.0,125.0 670.6,124.7 671.2,124.2 671.8,123.8 672.4,123.3 673.0,122.6 673.6,122.1 674.2,121.9 674.8,121.9 675.4,121.8 676.0,121.5 676.6,121.6 677.2,121.6 677.8,121.5 678.4,121.2 679.0,121.1 679.6,121.0 680.2,121.0 680.8,121.2" fill="none" stroke="#b583e4" stroke-width="2.4" stroke-linejoin="round" stroke-linecap="round"/>
<polyline points="451.0,119.6 451.6,119.6 452.2,119.6 452.8,119.5 453.4,119.4 454.0,119.4 454.6,119.4 455.2,119.6 455.8,119.6 456.4,119.8 457.0,119.8 457.6,119.8 458.2,119.6 458.8,119.3 459.4,119.4 460.0,119.5 460.6,119.8 461.2,119.6 461.8,119.6 462.4,119.5 463.0,119.9 463.6,119.8 464.2,119.7 464.8,119.3 465.4,119.2 466.0,119.1 466.6,119.1 467.2,119.1 467.8,119.0 468.4,119.1 469.0,119.3 469.6,119.5 470.2,119.5 470.8,119.5 471.4,119.6 472.0,119.4 472.6,119.2 473.2,119.0 473.8,119.0 474.4,119.1 475.0,119.2 475.6,119.4 476.2,119.6 476.8,119.7 477.4,119.5 478.0,119.2 478.6,119.2 479.2,119.2 479.8,119.2 480.4,119.2 481.0,119.1 481.6,119.3 482.2,119.4 482.8,119.6 483.4,119.4 484.0,119.1 484.6,118.7 485.2,118.7 485.8,118.7 486.4,118.7 487.0,118.7 487.6,118.7 488.2,118.9 488.8,119.2 489.4,119.2 490.0,119.2 490.6,118.8 491.2,118.8 491.8,118.7 492.4,118.8 493.0,118.5 493.6,118.8 494.2,118.7 494.8,118.8 495.4,118.6 496.0,118.8 496.6,118.9 497.2,118.9 497.8,118.8 498.4,118.8 499.0,118.8 499.6,118.7 500.2,118.8 500.8,118.7 501.4,119.0 502.0,118.6 502.6,118.5 503.2,118.3 503.8,118.4 504.4,118.6 505.0,118.5 505.6,118.5 506.2,118.3 506.8,118.5 507.4,118.5 508.0,118.5 508.6,118.7 509.2,118.6 509.8,118.8 510.4,118.4 511.0,118.4 511.6,118.2 512.2,118.4 512.8,118.3 513.4,118.1 514.0,117.6 514.6,117.4 515.2,117.1 515.8,117.0 516.4,117.0 517.0,117.3 517.6,117.6 518.2,117.9 518.8,118.2 519.4,118.5 520.0,118.7 520.6,118.7 521.2,118.7 521.8,118.7 522.4,118.9 523.0,119.1 523.6,119.2 524.2,118.9 524.8,118.9 525.4,118.7 526.0,118.9 526.6,118.8 527.2,118.5 527.8,118.3 528.4,118.4 529.0,118.8 529.6,119.1 530.2,119.0 530.8,118.8 531.4,118.8 532.0,118.9 532.6,118.8 533.2,118.7 533.8,118.7 534.4,118.8 535.0,119.0 535.6,119.2 536.2,119.0 536.8,119.1 537.4,118.9 538.0,119.1 538.6,119.1 539.2,119.1 539.8,119.1 540.4,119.0 541.0,119.0 541.6,119.0 542.2,119.0 542.8,118.9 543.4,118.7 544.0,118.8 544.6,118.7 545.2,118.7 545.8,118.3 546.4,118.0 547.0,117.8 547.6,117.7 548.2,117.5 548.8,116.7 549.4,115.6 550.0,114.2 550.6,113.1 551.2,112.5 551.8,112.7 552.4,113.3 553.0,114.1 553.6,114.8 554.2,115.0 554.8,115.1 555.4,114.6 556.0,114.0 556.6,113.5 557.2,113.0 557.8,113.2 558.4,113.5 559.0,114.0 559.6,114.6 560.2,115.1 560.8,115.6 561.4,115.8 562.0,115.6 562.6,115.6 563.2,115.5 563.8,115.6 564.4,115.4 565.0,115.0 565.6,114.6 566.2,114.0 566.8,113.6 567.4,112.3 568.0,110.6 568.6,107.9 569.2,105.2 569.8,101.7 570.4,97.5 571.0,93.6 571.6,90.1 572.2,87.7 572.8,86.4 573.4,86.7 574.0,88.7 574.6,91.9 575.2,95.6 575.8,99.6 576.4,103.1 577.0,106.2 577.6,108.5 578.2,110.0 578.8,111.2 579.4,111.9 580.0,112.7 580.6,113.1 581.2,113.6 581.8,113.6 582.4,113.6 583.0,113.5 583.6,113.8 584.2,114.1 584.8,114.2 585.4,114.4 586.0,114.5 586.6,114.8 587.2,114.7 587.8,114.7 588.4,114.6 589.0,114.6 589.6,114.8 590.2,114.8 590.8,114.8 591.4,114.7 592.0,114.8 592.6,114.8 593.2,114.8 593.8,114.9 594.4,114.9 595.0,114.6 595.6,114.3 596.2,114.2 596.8,114.2 597.4,114.0 598.0,113.5 598.6,113.0 599.2,112.7 599.8,112.6 600.4,112.4 601.0,112.0 601.6,111.9 602.2,111.8 602.8,111.9 603.4,112.1 604.0,112.6 604.6,113.1 605.2,113.5 605.8,113.8 606.4,114.0 607.0,114.0 607.6,114.2 608.2,114.5 608.8,114.7 609.4,114.6 610.0,114.6 610.6,114.4 611.2,114.6 611.8,114.4 612.4,114.6 613.0,114.7 613.6,114.9 614.2,115.1 614.8,115.0 615.4,114.9 616.0,114.7 616.6,114.7 617.2,114.6 617.8,114.7 618.4,114.8 619.0,114.8 619.6,114.5 620.2,114.3 620.8,114.4 621.4,114.5 622.0,114.4 622.6,114.2 623.2,114.2 623.8,113.8 624.4,113.8 625.0,113.7 625.6,113.9 626.2,113.6 626.8,113.4 627.4,113.3 628.0,113.1 628.6,113.0 629.2,112.8 629.8,113.0 630.4,112.8 631.0,112.7 631.6,112.4 632.2,112.3 632.8,112.2 633.4,112.3 634.0,112.3 634.6,112.3 635.2,112.4 635.8,112.5 636.4,112.7 637.0,113.0 637.6,113.2 638.2,113.3 638.8,113.5 639.4,113.8 640.0,114.1 640.6,114.0 641.2,114.1 641.8,114.2 642.4,114.6 643.0,114.9 643.6,114.9 644.2,114.9 644.8,115.1 645.4,115.5 646.0,115.4 646.6,115.4 647.2,115.5 647.8,115.6 648.4,115.6 649.0,115.4 649.6,115.3 650.2,115.3 650.8,115.5 651.4,115.8 652.0,115.7 652.6,115.6 653.2,115.4 653.8,115.3 654.4,115.4 655.0,115.7 655.6,116.1 656.2,116.0 656.8,116.0 657.4,115.9 658.0,116.0 658.6,115.9 659.2,115.7 659.8,115.8 660.4,116.0 661.0,115.9 661.6,115.8 662.2,115.6 662.8,115.7 663.4,115.7 664.0,115.5 664.6,115.3 665.2,115.5 665.8,115.6 666.4,115.8 667.0,115.8 667.6,115.8 668.2,115.6 668.8,115.7 669.4,115.8 670.0,115.9 670.6,115.7 671.2,115.7 671.8,115.9 672.4,115.8 673.0,115.4 673.6,115.2 674.2,115.4 674.8,115.5 675.4,115.4 676.0,115.2 676.6,115.3 677.2,115.4 677.8,115.3 678.4,115.2 679.0,114.9 679.6,115.0 680.2,114.8 680.8,114.9" fill="none" stroke="#c9a11d" stroke-width="2.4" stroke-linejoin="round" stroke-linecap="round"/>
<polyline points="451.0,105.2 451.6,105.2 452.2,105.1 452.8,104.9 453.4,105.0 454.0,105.0 454.6,105.0 455.2,104.5 455.8,104.5 456.4,104.6 457.0,104.9 457.6,105.0 458.2,104.8 458.8,104.7 459.4,104.4 460.0,104.4 460.6,104.4 461.2,104.4 461.8,104.3 462.4,104.2 463.0,104.3 463.6,104.5 464.2,104.4 464.8,104.6 465.4,104.4 466.0,104.5 466.6,104.4 467.2,104.5 467.8,104.6 468.4,104.8 469.0,104.9 469.6,105.3 470.2,105.3 470.8,105.3 471.4,105.1 472.0,105.1 472.6,105.1 473.2,104.9 473.8,104.8 474.4,104.8 475.0,105.0 475.6,105.1 476.2,105.1 476.8,105.0 477.4,104.9 478.0,105.0 478.6,105.0 479.2,105.2 479.8,105.3 480.4,105.1 481.0,105.0 481.6,104.7 482.2,104.9 482.8,104.8 483.4,104.8 484.0,104.6 484.6,104.7 485.2,104.6 485.8,104.5 486.4,104.5 487.0,104.8 487.6,104.9 488.2,104.6 488.8,104.8 489.4,104.9 490.0,105.1 490.6,104.8 491.2,104.8 491.8,104.8 492.4,104.9 493.0,104.8 493.6,104.6 494.2,104.7 494.8,104.7 495.4,104.7 496.0,104.5 496.6,104.3 497.2,104.4 497.8,104.7 498.4,105.0 499.0,105.0 499.6,104.8 500.2,104.7 500.8,104.6 501.4,104.6 502.0,104.8 502.6,104.6 503.2,104.6 503.8,104.3 504.4,104.4 505.0,104.5 505.6,104.4 506.2,104.6 506.8,104.6 507.4,104.8 508.0,104.8 508.6,105.0 509.2,104.9 509.8,104.9 510.4,104.6 511.0,104.7 511.6,104.5 512.2,104.4 512.8,104.3 513.4,104.0 514.0,103.8 514.6,103.1 515.2,102.2 515.8,101.1 516.4,100.3 517.0,100.2 517.6,100.8 518.2,101.8 518.8,102.8 519.4,103.3 520.0,103.8 520.6,103.9 521.2,104.2 521.8,104.4 522.4,104.7 523.0,104.7 523.6,104.4 524.2,104.3 524.8,104.3 525.4,104.5 526.0,104.3 526.6,104.4 527.2,104.6 527.8,104.5 528.4,104.3 529.0,104.1 529.6,104.3 530.2,104.2 530.8,104.3 531.4,104.2 532.0,104.3 532.6,104.3 533.2,104.1 533.8,104.1 534.4,103.9 535.0,104.2 535.6,104.3 536.2,104.3 536.8,104.2 537.4,104.2 538.0,104.2 538.6,104.1 539.2,104.2 539.8,104.5 540.4,104.5 541.0,104.4 541.6,104.1 542.2,104.2 542.8,104.3 543.4,104.4 544.0,104.5 544.6,104.3 545.2,104.1 545.8,104.0 546.4,104.0 547.0,103.9 547.6,103.7 548.2,103.1 548.8,102.1 549.4,100.7 550.0,99.2 550.6,98.0 551.2,97.2 551.8,97.5 552.4,98.1 553.0,99.1 553.6,99.7 554.2,100.1 554.8,100.1 555.4,99.7 556.0,99.1 556.6,98.6 557.2,98.1 557.8,98.2 558.4,98.3 559.0,98.9 559.6,99.2 560.2,99.4 560.8,99.3 561.4,99.5 562.0,99.4 562.6,99.3 563.2,99.0 563.8,99.1 564.4,99.2 565.0,99.0 565.6,98.7 566.2,98.2 566.8,97.6 567.4,96.5 568.0,94.6 568.6,92.2 569.2,89.1 569.8,85.6 570.4,81.6 571.0,77.5 571.6,73.9 572.2,71.3 572.8,70.1 573.4,70.6 574.0,72.7 574.6,76.0 575.2,79.9 575.8,84.0 576.4,87.7 577.0,90.7 577.6,93.0 578.2,94.8 578.8,95.9 579.4,96.6 580.0,97.4 580.6,98.1 581.2,98.3 581.8,98.4 582.4,98.7 583.0,99.2 583.6,99.6 584.2,100.0 584.8,100.4 585.4,100.4 586.0,100.5 586.6,100.7 587.2,101.0 587.8,101.0 588.4,101.0 589.0,101.0 589.6,101.0 590.2,100.8 590.8,100.8 591.4,100.7 592.0,100.7 592.6,100.6 593.2,100.4 593.8,100.3 594.4,100.2 595.0,100.0 595.6,99.8 596.2,99.4 596.8,99.4 597.4,99.3 598.0,99.3 598.6,99.3 599.2,98.9 599.8,98.5 600.4,98.0 601.0,97.5 601.6,97.5 602.2,97.2 602.8,97.4 603.4,97.2 604.0,97.3 604.6,97.4 605.2,97.6 605.8,97.8 606.4,98.1 607.0,98.3 607.6,98.7 608.2,98.8 608.8,99.1 609.4,99.0 610.0,99.1 610.6,99.2 611.2,99.4 611.8,99.6 612.4,99.7 613.0,99.7 613.6,99.9 614.2,99.8 614.8,99.9 615.4,99.9 616.0,99.7 616.6,99.5 617.2,99.2 617.8,99.2 618.4,99.0 619.0,99.0 619.6,99.0 620.2,99.0 620.8,98.8 621.4,98.8 622.0,98.7 622.6,98.8 623.2,98.4 623.8,98.1 624.4,98.2 625.0,98.3 625.6,98.3 626.2,97.8 626.8,97.6 627.4,97.4 628.0,97.5 628.6,97.1 629.2,97.0 629.8,96.6 630.4,96.5 631.0,96.2 631.6,96.1 632.2,95.8 632.8,95.7 633.4,95.7 634.0,95.9 634.6,95.9 635.2,96.0 635.8,96.2 636.4,96.6 637.0,97.0 637.6,97.0 638.2,97.2 638.8,97.0 639.4,97.1 640.0,97.3 640.6,97.6 641.2,98.0 641.8,98.3 642.4,98.6 643.0,98.9 643.6,99.0 644.2,99.1 644.8,99.1 645.4,99.2 646.0,99.3 646.6,99.5 647.2,99.2 647.8,99.2 648.4,99.6 649.0,100.0 649.6,100.1 650.2,99.9 650.8,100.1 651.4,100.2 652.0,100.2 652.6,99.9 653.2,99.9 653.8,99.8 654.4,100.0 655.0,100.2 655.6,100.4 656.2,100.4 656.8,100.1 657.4,99.9 658.0,100.0 658.6,100.2 659.2,100.4 659.8,100.4 660.4,100.3 661.0,100.0 661.6,100.1 662.2,100.1 662.8,100.6 663.4,100.2 664.0,100.2 664.6,99.9 665.2,100.2 665.8,100.3 666.4,100.3 667.0,100.3 667.6,100.0 668.2,100.0 668.8,99.7 669.4,99.8 670.0,99.7 670.6,99.8 671.2,100.2 671.8,100.0 672.4,99.9 673.0,99.6 673.6,99.7 674.2,99.8 674.8,99.5 675.4,99.4 676.0,99.1 676.6,99.2 677.2,99.0 677.8,99.0 678.4,98.7 679.0,98.4 679.6,98.1 680.2,98.1 680.8,98.2" fill="none" stroke="#20c6c9" stroke-width="2.4" stroke-linejoin="round" stroke-linecap="round"/>
<polyline points="451.0,89.0 451.6,89.2 452.2,89.3 452.8,89.1 453.4,89.4 454.0,89.3 454.6,89.2 455.2,89.0 455.8,89.0 456.4,88.8 457.0,88.7 457.6,88.7 458.2,88.6 458.8,88.4 459.4,88.1 460.0,88.0 460.6,87.8 461.2,87.8 461.8,87.8 462.4,88.1 463.0,88.0 463.6,87.9 464.2,87.8 464.8,88.0 465.4,88.2 466.0,88.3 466.6,88.2 467.2,88.0 467.8,88.0 468.4,88.1 469.0,88.4 469.6,88.5 470.2,88.6 470.8,88.7 471.4,88.5 472.0,88.3 472.6,88.0 473.2,88.1 473.8,88.1 474.4,88.2 475.0,88.3 475.6,88.5 476.2,88.4 476.8,88.3 477.4,88.2 478.0,88.0 478.6,88.1 479.2,87.9 479.8,88.1 480.4,87.8 481.0,88.0 481.6,87.9 482.2,88.2 482.8,88.1 483.4,88.0 484.0,88.1 484.6,88.3 485.2,88.2 485.8,88.2 486.4,88.0 487.0,88.0 487.6,87.9 488.2,87.8 488.8,87.7 489.4,87.6 490.0,87.8 490.6,87.7 491.2,87.5 491.8,87.3 492.4,87.4 493.0,87.6 493.6,87.7 494.2,87.6 494.8,87.6 495.4,87.5 496.0,87.4 496.6,87.4 497.2,87.3 497.8,87.0 498.4,86.9 499.0,86.8 499.6,86.9 500.2,87.0 500.8,86.9 501.4,87.1 502.0,87.1 502.6,87.5 503.2,87.3 503.8,87.4 504.4,87.2 505.0,87.6 505.6,87.6 506.2,87.6 506.8,87.6 507.4,87.6 508.0,87.7 508.6,87.5 509.2,87.6 509.8,87.5 510.4,87.4 511.0,87.3 511.6,87.5 512.2,87.7 512.8,87.7 513.4,87.8 514.0,87.6 514.6,87.7 515.2,87.6 515.8,87.6 516.4,87.3 517.0,87.2 517.6,87.3 518.2,87.5 518.8,87.4 519.4,87.3 520.0,87.2 520.6,87.3 521.2,87.3 521.8,87.3 522.4,87.5 523.0,87.5 523.6,87.5 524.2,87.6 524.8,87.4 525.4,87.5 526.0,87.5 526.6,87.6 527.2,87.5 527.8,87.4 528.4,87.4 529.0,87.2 529.6,87.3 530.2,87.3 530.8,87.3 531.4,87.1 532.0,87.1 532.6,87.1 533.2,87.4 533.8,87.2 534.4,87.3 535.0,86.8 535.6,86.9 536.2,86.8 536.8,87.1 537.4,87.1 538.0,87.1 538.6,87.2 539.2,87.3 539.8,87.2 540.4,87.0 541.0,86.6 541.6,86.6 542.2,86.6 542.8,86.8 543.4,86.9 544.0,86.6 544.6,86.7 545.2,86.6 545.8,86.7 546.4,86.6 547.0,86.7 547.6,86.5 548.2,85.7 548.8,84.6 549.4,83.2 550.0,81.7 550.6,80.2 551.2,79.5 551.8,79.8 552.4,80.8 553.0,81.6 553.6,82.3 554.2,82.7 554.8,82.8 555.4,82.6 556.0,82.3 556.6,81.8 557.2,81.4 557.8,81.5 558.4,82.2 559.0,82.3 559.6,82.4 560.2,82.3 560.8,82.6 561.4,82.6 562.0,82.7 562.6,82.7 563.2,82.6 563.8,82.4 564.4,82.3 565.0,82.3 565.6,81.8 566.2,81.3 566.8,80.3 567.4,79.3 568.0,77.4 568.6,75.1 569.2,72.0 569.8,68.6 570.4,64.6 571.0,60.6 571.6,56.9 572.2,54.3 572.8,53.0 573.4,53.7 574.0,55.6 574.6,59.0 575.2,62.8 575.8,66.7 576.4,70.2 577.0,73.0 577.6,75.3 578.2,76.8 578.8,78.0 579.4,78.8 580.0,79.4 580.6,80.0 581.2,80.6 581.8,81.3 582.4,81.7 583.0,81.8 583.6,81.9 584.2,82.1 584.8,82.3 585.4,82.5 586.0,82.8 586.6,83.1 587.2,83.3 587.8,83.4 588.4,83.4 589.0,83.4 589.6,83.4 590.2,83.3 590.8,82.9 591.4,82.8 592.0,83.0 592.6,82.9 593.2,82.5 593.8,82.0 594.4,81.8 595.0,81.7 595.6,81.6 596.2,81.5 596.8,81.2 597.4,81.0 598.0,80.5 598.6,80.5 599.2,80.5 599.8,80.5 600.4,80.1 601.0,79.9 601.6,79.6 602.2,79.5 602.8,79.3 603.4,79.2 604.0,79.3 604.6,79.3 605.2,79.4 605.8,79.6 606.4,79.8 607.0,80.1 607.6,80.4 608.2,80.7 608.8,80.7 609.4,80.5 610.0,80.7 610.6,81.0 611.2,81.2 611.8,81.3 612.4,81.1 613.0,81.1 613.6,81.3 614.2,81.4 614.8,81.3 615.4,81.0 616.0,81.0 616.6,81.1 617.2,81.1 617.8,81.0 618.4,80.7 619.0,80.5 619.6,80.3 620.2,80.1 620.8,80.0 621.4,79.9 622.0,79.9 622.6,79.8 623.2,79.8 623.8,79.6 624.4,79.3 625.0,78.9 625.6,78.5 626.2,78.5 626.8,78.2 627.4,78.1 628.0,77.9 628.6,77.7 629.2,77.4 629.8,77.0 630.4,76.8 631.0,76.7 631.6,76.5 632.2,76.4 632.8,76.2 633.4,76.3 634.0,76.3 634.6,76.6 635.2,76.8 635.8,76.9 636.4,77.0 637.0,77.1 637.6,77.3 638.2,77.2 638.8,77.4 639.4,77.7 640.0,78.3 640.6,78.5 641.2,78.7 641.8,78.8 642.4,79.0 643.0,79.1 643.6,79.3 644.2,79.6 644.8,79.8 645.4,80.0 646.0,80.1 646.6,80.2 647.2,80.2 647.8,80.5 648.4,80.5 649.0,80.8 649.6,80.6 650.2,80.8 650.8,80.8 651.4,80.9 652.0,80.8 652.6,80.7 653.2,80.8 653.8,81.0 654.4,81.0 655.0,81.1 655.6,81.2 656.2,81.2 656.8,81.3 657.4,81.3 658.0,81.3 658.6,81.3 659.2,81.3 659.8,81.5 660.4,81.4 661.0,81.5 661.6,81.5 662.2,81.6 662.8,81.6 663.4,81.5 664.0,81.6 664.6,81.5 665.2,81.5 665.8,81.4 666.4,81.6 667.0,81.5 667.6,81.6 668.2,81.3 668.8,81.4 669.4,81.5 670.0,81.4 670.6,81.3 671.2,80.8 671.8,80.6 672.4,80.1 673.0,79.8 673.6,79.7 674.2,79.4 674.8,78.9 675.4,78.4 676.0,78.0 676.6,78.2 677.2,78.3 677.8,78.6 678.4,78.8 679.0,79.1 679.6,79.4 680.2,79.4 680.8,79.7" fill="none" stroke="#7b4c4c" stroke-width="2.4" stroke-linejoin="round" stroke-linecap="round"/>
<text x="482.0" y="84.30000000000001" font-size="12.2" style="font-family:'Liberation Sans',sans-serif;font-weight:bold" fill="#111">500 µM</text>
<text x="482.0" y="100.4" font-size="12.2" style="font-family:'Liberation Sans',sans-serif;font-weight:bold" fill="#111">400 µM</text>
<text x="482.0" y="115.7" font-size="12.2" style="font-family:'Liberation Sans',sans-serif;font-weight:bold" fill="#111">300 µM</text>
<text x="482.0" y="130.20000000000002" font-size="12.2" style="font-family:'Liberation Sans',sans-serif;font-weight:bold" fill="#111">200 µM</text>
<text x="482.0" y="145.9" font-size="12.2" style="font-family:'Liberation Sans',sans-serif;font-weight:bold" fill="#111">100 µM</text>
<text x="482.0" y="165.0" font-size="12.2" style="font-family:'Liberation Sans',sans-serif;font-weight:bold" fill="#111">50 µM</text>
<text x="482.0" y="182.9" font-size="12.2" style="font-family:'Liberation Sans',sans-serif;font-weight:bold" fill="#111">10 µM</text>
<text x="482.0" y="200.20000000000002" font-size="12.2" style="font-family:'Liberation Sans',sans-serif;font-weight:bold" fill="#111">0 µM</text>
<rect x="450.2" y="44.1" width="231.8" height="172.8" fill="none" stroke="#000" stroke-width="2"/>
<line x1="446.0" y1="203.2" x2="450.2" y2="203.2" stroke="#000" stroke-width="1.8"/>
<text x="443.4" y="208.0" font-size="17.1" text-anchor="end" style="font-family:'Liberation Sans',sans-serif;font-weight:bold" fill="#000">0</text>
<line x1="446.0" y1="150.2" x2="450.2" y2="150.2" stroke="#000" stroke-width="1.8"/>
<text x="443.4" y="155.1" font-size="17.1" text-anchor="end" style="font-family:'Liberation Sans',sans-serif;font-weight:bold" fill="#000">20</text>
<line x1="446.0" y1="97.3" x2="450.2" y2="97.3" stroke="#000" stroke-width="1.8"/>
<text x="443.4" y="102.1" font-size="17.1" text-anchor="end" style="font-family:'Liberation Sans',sans-serif;font-weight:bold" fill="#000">40</text>
<line x1="446.0" y1="44.3" x2="450.2" y2="44.3" stroke="#000" stroke-width="1.8"/>
<text x="443.4" y="49.2" font-size="17.1" text-anchor="end" style="font-family:'Liberation Sans',sans-serif;font-weight:bold" fill="#000">60</text>
<line x1="448.2" y1="176.7" x2="450.2" y2="176.7" stroke="#000" stroke-width="1.3"/>
<line x1="448.2" y1="123.8" x2="450.2" y2="123.8" stroke="#000" stroke-width="1.3"/>
<line x1="448.2" y1="70.8" x2="450.2" y2="70.8" stroke="#000" stroke-width="1.3"/>
<line x1="493.7" y1="216.9" x2="493.7" y2="220.5" stroke="#000" stroke-width="1.8"/>
<text x="494.0" y="236.2" font-size="17.2" text-anchor="middle" style="font-family:'Liberation Sans',sans-serif;font-weight:bold" fill="#000">800</text>
<line x1="551.4" y1="216.9" x2="551.4" y2="220.5" stroke="#000" stroke-width="1.8"/>
<text x="551.7" y="236.2" font-size="17.2" text-anchor="middle" style="font-family:'Liberation Sans',sans-serif;font-weight:bold" fill="#000">1000</text>
<line x1="609.1" y1="216.9" x2="609.1" y2="220.5" stroke="#000" stroke-width="1.8"/>
<text x="609.4" y="236.2" font-size="17.2" text-anchor="middle" style="font-family:'Liberation Sans',sans-serif;font-weight:bold" fill="#000">1200</text>
<line x1="666.8" y1="216.9" x2="666.8" y2="220.5" stroke="#000" stroke-width="1.8"/>
<text x="667.1" y="236.2" font-size="17.2" text-anchor="middle" style="font-family:'Liberation Sans',sans-serif;font-weight:bold" fill="#000">1400</text>
<line x1="464.8" y1="216.9" x2="464.8" y2="218.9" stroke="#000" stroke-width="1.3"/>
<line x1="522.5" y1="216.9" x2="522.5" y2="218.9" stroke="#000" stroke-width="1.3"/>
<line x1="580.2" y1="216.9" x2="580.2" y2="218.9" stroke="#000" stroke-width="1.3"/>
<line x1="638.0" y1="216.9" x2="638.0" y2="218.9" stroke="#000" stroke-width="1.3"/>
<text x="499.2" y="264.3" font-size="16.6" textLength="146.6" lengthAdjust="spacingAndGlyphs" style="font-family:'Liberation Sans',sans-serif;font-weight:bold" fill="#000">Raman shift (cm<tspan dy="-7.6" font-size="10">-1</tspan><tspan dy="7.6">)</tspan></text>
<text transform="translate(403.3,192.0) rotate(-90)" font-size="16.8" textLength="124.8" lengthAdjust="spacingAndGlyphs" style="font-family:'Liberation Sans',sans-serif;font-weight:bold" fill="#000">Intensity (*10<tspan dy="-7" font-size="10.4">3</tspan><tspan dy="7">)</tspan></text>
<rect x="110.0" y="299.2" width="231.89999999999998" height="166.65000000000003" fill="#fff" stroke="#000" stroke-width="1.8"/>
<line x1="105.6" y1="442.5" x2="110.0" y2="442.5" stroke="#000" stroke-width="1.6"/>
<text x="103.6" y="447.2" font-size="16.2" text-anchor="end" style="font-family:'Liberation Sans',sans-serif;font-weight:bold" fill="#000">4</text>
<line x1="105.6" y1="396.6" x2="110.0" y2="396.6" stroke="#000" stroke-width="1.6"/>
<text x="103.6" y="401.3" font-size="16.2" text-anchor="end" style="font-family:'Liberation Sans',sans-serif;font-weight:bold" fill="#000">8</text>
<line x1="105.6" y1="350.6" x2="110.0" y2="350.6" stroke="#000" stroke-width="1.6"/>
<text x="103.6" y="355.3" font-size="16.2" text-anchor="end" style="font-family:'Liberation Sans',sans-serif;font-weight:bold" fill="#000">12</text>
<line x1="105.6" y1="304.7" x2="110.0" y2="304.7" stroke="#000" stroke-width="1.6"/>
<text x="103.6" y="309.4" font-size="16.2" text-anchor="end" style="font-family:'Liberation Sans',sans-serif;font-weight:bold" fill="#000">16</text>
<line x1="107.8" y1="419.5" x2="110.0" y2="419.5" stroke="#000" stroke-width="1.2"/>
<line x1="107.8" y1="373.6" x2="110.0" y2="373.6" stroke="#000" stroke-width="1.2"/>
<line x1="107.8" y1="327.7" x2="110.0" y2="327.7" stroke="#000" stroke-width="1.2"/>
<line x1="129.0" y1="465.85" x2="129.0" y2="470.05" stroke="#000" stroke-width="1.6"/>
<text x="129.1" y="483.3" font-size="16.0" text-anchor="middle" style="font-family:'Liberation Sans',sans-serif;font-weight:bold" fill="#000">0</text>
<line x1="167.7" y1="465.85" x2="167.7" y2="470.05" stroke="#000" stroke-width="1.6"/>
<text x="167.8" y="483.3" font-size="16.0" text-anchor="middle" style="font-family:'Liberation Sans',sans-serif;font-weight:bold" fill="#000">100</text>
<line x1="206.3" y1="465.85" x2="206.3" y2="470.05" stroke="#000" stroke-width="1.6"/>
<text x="206.4" y="483.3" font-size="16.0" text-anchor="middle" style="font-family:'Liberation Sans',sans-serif;font-weight:bold" fill="#000">200</text>
<line x1="245.0" y1="465.85" x2="245.0" y2="470.05" stroke="#000" stroke-width="1.6"/>
<text x="245.1" y="483.3" font-size="16.0" text-anchor="middle" style="font-family:'Liberation Sans',sans-serif;font-weight:bold" fill="#000">300</text>
<line x1="283.6" y1="465.85" x2="283.6" y2="470.05" stroke="#000" stroke-width="1.6"/>
<text x="283.7" y="483.3" font-size="16.0" text-anchor="middle" style="font-family:'Liberation Sans',sans-serif;font-weight:bold" fill="#000">400</text>
<line x1="322.3" y1="465.85" x2="322.3" y2="470.05" stroke="#000" stroke-width="1.6"/>
<text x="322.4" y="483.3" font-size="16.0" text-anchor="middle" style="font-family:'Liberation Sans',sans-serif;font-weight:bold" fill="#000">500</text>
<line x1="148.3" y1="465.85" x2="148.3" y2="468.05" stroke="#000" stroke-width="1.2"/>
<line x1="187.0" y1="465.85" x2="187.0" y2="468.05" stroke="#000" stroke-width="1.2"/>
<line x1="225.7" y1="465.85" x2="225.7" y2="468.05" stroke="#000" stroke-width="1.2"/>
<line x1="264.3" y1="465.85" x2="264.3" y2="468.05" stroke="#000" stroke-width="1.2"/>
<line x1="303.0" y1="465.85" x2="303.0" y2="468.05" stroke="#000" stroke-width="1.2"/>
<path d="M129.0 440.6V451.0M126.8 440.6H131.2M126.8 451.0H131.2" stroke="#000" stroke-width="1.4" fill="none"/>
<path d="M132.9 433.2V440.0M130.7 433.2H135.1M130.7 440.0H135.1" stroke="#000" stroke-width="1.4" fill="none"/>
<path d="M148.3 425.7V433.7M146.1 425.7H150.5M146.1 433.7H150.5" stroke="#000" stroke-width="1.4" fill="none"/>
<path d="M167.7 413.9V423.1M165.5 413.9H169.9M165.5 423.1H169.9" stroke="#000" stroke-width="1.4" fill="none"/>
<path d="M206.3 398.5V408.8M204.1 398.5H208.5M204.1 408.8H208.5" stroke="#000" stroke-width="1.4" fill="none"/>
<path d="M245.0 365.3V381.8M242.8 365.3H247.2M242.8 381.8H247.2" stroke="#000" stroke-width="1.4" fill="none"/>
<path d="M283.6 340.5V364.1M281.4 340.5H285.8M281.4 364.1H285.8" stroke="#000" stroke-width="1.4" fill="none"/>
<path d="M322.3 305.3V342.1M320.1 305.3H324.5M320.1 342.1H324.5" stroke="#000" stroke-width="1.4" fill="none"/>
<circle cx="129.0" cy="445.8" r="5.7" fill="url(#ball)" stroke="#7a0808" stroke-width="0.5"/>
<circle cx="132.9" cy="436.6" r="5.7" fill="url(#ball)" stroke="#7a0808" stroke-width="0.5"/>
<circle cx="148.3" cy="429.7" r="5.7" fill="url(#ball)" stroke="#7a0808" stroke-width="0.5"/>
<circle cx="167.7" cy="418.5" r="5.7" fill="url(#ball)" stroke="#7a0808" stroke-width="0.5"/>
<circle cx="206.3" cy="403.6" r="5.7" fill="url(#ball)" stroke="#7a0808" stroke-width="0.5"/>
<circle cx="245.0" cy="373.6" r="5.7" fill="url(#ball)" stroke="#7a0808" stroke-width="0.5"/>
<circle cx="283.6" cy="352.3" r="5.7" fill="url(#ball)" stroke="#7a0808" stroke-width="0.5"/>
<circle cx="322.3" cy="323.7" r="5.7" fill="url(#ball)" stroke="#7a0808" stroke-width="0.5"/>
<path d="M129.0 440.6V451.0M127.2 440.6H130.8M127.2 451.0H130.8" stroke="#000" stroke-width="1" fill="none"/>
<path d="M132.9 433.2V440.0M131.1 433.2H134.7M131.1 440.0H134.7" stroke="#000" stroke-width="1" fill="none"/>
<path d="M148.3 425.7V433.7M146.5 425.7H150.1M146.5 433.7H150.1" stroke="#000" stroke-width="1" fill="none"/>
<path d="M167.7 413.9V423.1M165.9 413.9H169.5M165.9 423.1H169.5" stroke="#000" stroke-width="1" fill="none"/>
<path d="M206.3 398.5V408.8M204.5 398.5H208.1M204.5 408.8H208.1" stroke="#000" stroke-width="1" fill="none"/>
<line x1="129.0" y1="443.2" x2="322.3" y2="326.8" stroke="#111" stroke-width="1.5"/>
<text x="120.7" y="329.7" font-size="14.5" style="font-family:'Liberation Sans',sans-serif;font-weight:bold" fill="#111">y=0.02027x+3.89197</text>
<text x="120.7" y="349.7" font-size="14.5" style="font-family:'Liberation Sans',sans-serif;font-weight:bold" fill="#111">R<tspan dy="-5.4" font-size="9">2</tspan><tspan dy="5.4">=0.99276</tspan></text>
<text x="175.3" y="435.7" font-size="14.1" style="font-family:'Liberation Sans',sans-serif;font-weight:bold" fill="#111">Cell culture medium</text>
<text x="225.9" y="508.8" font-size="19.5" text-anchor="middle" style="font-family:'Liberation Sans',sans-serif;font-weight:bold" fill="#000">H<tspan dy="5.6" font-size="13">2</tspan><tspan dy="-5.6">O</tspan><tspan dy="5.6" font-size="13">2</tspan><tspan dy="-5.6"> (µM)</tspan></text>
<text transform="translate(69,378) rotate(-90)" font-size="20.5" text-anchor="middle" style="font-family:'Liberation Sans',sans-serif;font-weight:bold" fill="#000">I<tspan dy="5.0" font-size="12.5">1075</tspan><tspan dy="-5.0">/I</tspan><tspan dy="5.0" font-size="12.5">1023</tspan></text>
<path d="M195 515h6.6M195 517h6.6M217.6 515h6.8M217.6 517h6.8" stroke="#111" stroke-width="0.85"/>
<rect x="452.1" y="299.2" width="231.79999999999995" height="166.65000000000003" fill="#fff" stroke="#000" stroke-width="1.8"/>
<line x1="447.70000000000005" y1="442.5" x2="452.1" y2="442.5" stroke="#000" stroke-width="1.6"/>
<text x="445.70000000000005" y="447.2" font-size="16.2" text-anchor="end" style="font-family:'Liberation Sans',sans-serif;font-weight:bold" fill="#000">4</text>
<line x1="447.70000000000005" y1="396.6" x2="452.1" y2="396.6" stroke="#000" stroke-width="1.6"/>
<text x="445.70000000000005" y="401.3" font-size="16.2" text-anchor="end" style="font-family:'Liberation Sans',sans-serif;font-weight:bold" fill="#000">8</text>
<line x1="447.70000000000005" y1="350.6" x2="452.1" y2="350.6" stroke="#000" stroke-width="1.6"/>
<text x="445.70000000000005" y="355.3" font-size="16.2" text-anchor="end" style="font-family:'Liberation Sans',sans-serif;font-weight:bold" fill="#000">12</text>
<line x1="447.70000000000005" y1="304.7" x2="452.1" y2="304.7" stroke="#000" stroke-width="1.6"/>
<text x="445.70000000000005" y="309.4" font-size="16.2" text-anchor="end" style="font-family:'Liberation Sans',sans-serif;font-weight:bold" fill="#000">16</text>
<line x1="449.90000000000003" y1="419.5" x2="452.1" y2="419.5" stroke="#000" stroke-width="1.2"/>
<line x1="449.90000000000003" y1="373.6" x2="452.1" y2="373.6" stroke="#000" stroke-width="1.2"/>
<line x1="449.90000000000003" y1="327.7" x2="452.1" y2="327.7" stroke="#000" stroke-width="1.2"/>
<line x1="471.2" y1="465.85" x2="471.2" y2="470.05" stroke="#000" stroke-width="1.6"/>
<text x="471.3" y="483.3" font-size="16.0" text-anchor="middle" style="font-family:'Liberation Sans',sans-serif;font-weight:bold" fill="#000">0</text>
<line x1="509.9" y1="465.85" x2="509.9" y2="470.05" stroke="#000" stroke-width="1.6"/>
<text x="510.0" y="483.3" font-size="16.0" text-anchor="middle" style="font-family:'Liberation Sans',sans-serif;font-weight:bold" fill="#000">100</text>
<line x1="548.5" y1="465.85" x2="548.5" y2="470.05" stroke="#000" stroke-width="1.6"/>
<text x="548.6" y="483.3" font-size="16.0" text-anchor="middle" style="font-family:'Liberation Sans',sans-serif;font-weight:bold" fill="#000">200</text>
<line x1="587.2" y1="465.85" x2="587.2" y2="470.05" stroke="#000" stroke-width="1.6"/>
<text x="587.3" y="483.3" font-size="16.0" text-anchor="middle" style="font-family:'Liberation Sans',sans-serif;font-weight:bold" fill="#000">300</text>
<line x1="625.8" y1="465.85" x2="625.8" y2="470.05" stroke="#000" stroke-width="1.6"/>
<text x="625.9" y="483.3" font-size="16.0" text-anchor="middle" style="font-family:'Liberation Sans',sans-serif;font-weight:bold" fill="#000">400</text>
<line x1="664.5" y1="465.85" x2="664.5" y2="470.05" stroke="#000" stroke-width="1.6"/>
<text x="664.6" y="483.3" font-size="16.0" text-anchor="middle" style="font-family:'Liberation Sans',sans-serif;font-weight:bold" fill="#000">500</text>
<line x1="490.5" y1="465.85" x2="490.5" y2="468.05" stroke="#000" stroke-width="1.2"/>
<line x1="529.2" y1="465.85" x2="529.2" y2="468.05" stroke="#000" stroke-width="1.2"/>
<line x1="567.9" y1="465.85" x2="567.9" y2="468.05" stroke="#000" stroke-width="1.2"/>
<line x1="606.5" y1="465.85" x2="606.5" y2="468.05" stroke="#000" stroke-width="1.2"/>
<line x1="645.2" y1="465.85" x2="645.2" y2="468.05" stroke="#000" stroke-width="1.2"/>
<path d="M471.2 440.0V449.2M469.0 440.0H473.4M469.0 449.2H473.4" stroke="#000" stroke-width="1.4" fill="none"/>
<path d="M475.1 433.6V440.5M472.9 433.6H477.3M472.9 440.5H477.3" stroke="#000" stroke-width="1.4" fill="none"/>
<path d="M490.5 423.9V429.6M488.3 423.9H492.7M488.3 429.6H492.7" stroke="#000" stroke-width="1.4" fill="none"/>
<path d="M509.9 411.3V418.2M507.7 411.3H512.1M507.7 418.2H512.1" stroke="#000" stroke-width="1.4" fill="none"/>
<path d="M548.5 396.4V404.4M546.3 396.4H550.7M546.3 404.4H550.7" stroke="#000" stroke-width="1.4" fill="none"/>
<path d="M587.2 371.7V376.8M585.0 371.7H589.4M585.0 376.8H589.4" stroke="#000" stroke-width="1.4" fill="none"/>
<path d="M625.8 357.3V366.4M623.6 357.3H628.0M623.6 366.4H628.0" stroke="#000" stroke-width="1.4" fill="none"/>
<path d="M664.5 315.0V335.7M662.3 315.0H666.7M662.3 335.7H666.7" stroke="#000" stroke-width="1.4" fill="none"/>
<circle cx="471.2" cy="444.6" r="5.7" fill="url(#ball)" stroke="#7a0808" stroke-width="0.5"/>
<circle cx="475.1" cy="437.1" r="5.7" fill="url(#ball)" stroke="#7a0808" stroke-width="0.5"/>
<circle cx="490.5" cy="426.7" r="5.7" fill="url(#ball)" stroke="#7a0808" stroke-width="0.5"/>
<circle cx="509.9" cy="414.8" r="5.7" fill="url(#ball)" stroke="#7a0808" stroke-width="0.5"/>
<circle cx="548.5" cy="400.4" r="5.7" fill="url(#ball)" stroke="#7a0808" stroke-width="0.5"/>
<circle cx="587.2" cy="374.2" r="5.7" fill="url(#ball)" stroke="#7a0808" stroke-width="0.5"/>
<circle cx="625.8" cy="361.8" r="5.7" fill="url(#ball)" stroke="#7a0808" stroke-width="0.5"/>
<circle cx="664.5" cy="325.3" r="5.7" fill="url(#ball)" stroke="#7a0808" stroke-width="0.5"/>
<path d="M471.2 440.0V449.2M469.4 440.0H473.0M469.4 449.2H473.0" stroke="#000" stroke-width="1" fill="none"/>
<path d="M475.1 433.6V440.5M473.3 433.6H476.9M473.3 440.5H476.9" stroke="#000" stroke-width="1" fill="none"/>
<path d="M490.5 423.9V429.6M488.7 423.9H492.3M488.7 429.6H492.3" stroke="#000" stroke-width="1" fill="none"/>
<path d="M509.9 411.3V418.2M508.1 411.3H511.7M508.1 418.2H511.7" stroke="#000" stroke-width="1" fill="none"/>
<path d="M548.5 396.4V404.4M546.7 396.4H550.3M546.7 404.4H550.3" stroke="#000" stroke-width="1" fill="none"/>
<path d="M587.2 371.7V376.8M585.4 371.7H589.0M585.4 376.8H589.0" stroke="#000" stroke-width="1" fill="none"/>
<path d="M625.8 357.3V366.4M624.0 357.3H627.6M624.0 366.4H627.6" stroke="#000" stroke-width="1" fill="none"/>
<line x1="471.2" y1="441.3" x2="664.5" y2="338.5" stroke="#111" stroke-width="1.5"/>
<text x="468.8" y="329.7" font-size="14.5" style="font-family:'Liberation Sans',sans-serif;font-weight:bold" fill="#111">y=0.0179x+4.06251</text>
<text x="468.8" y="349.7" font-size="14.5" style="font-family:'Liberation Sans',sans-serif;font-weight:bold" fill="#111">R<tspan dy="-5.4" font-size="9">2</tspan><tspan dy="5.4">=0.9861</tspan></text>
<text x="602.3" y="436.0" font-size="14.1" style="font-family:'Liberation Sans',sans-serif;font-weight:bold" fill="#111">BSA</text>
<text x="567.6" y="507.7" font-size="19.5" text-anchor="middle" style="font-family:'Liberation Sans',sans-serif;font-weight:bold" fill="#000">H<tspan dy="5.6" font-size="13">2</tspan><tspan dy="-5.6">O</tspan><tspan dy="5.6" font-size="13">2</tspan><tspan dy="-5.6"> (µM)</tspan></text>
<text transform="translate(410.2,378) rotate(-90)" font-size="20.5" text-anchor="middle" style="font-family:'Liberation Sans',sans-serif;font-weight:bold" fill="#000">I<tspan dy="5.0" font-size="12.5">1075</tspan><tspan dy="-5.0">/I</tspan><tspan dy="5.0" font-size="12.5">1023</tspan></text>
<text x="51.6" y="40.7" font-size="21.5" style="font-family:'Liberation Sans',sans-serif;font-weight:bold" fill="#000">A</text>
<text x="386.8" y="40.2" font-size="21.3" style="font-family:'Liberation Sans',sans-serif;font-weight:bold" fill="#000">B</text>
<text x="46.9" y="291.9" font-size="20.5" style="font-family:'Liberation Sans',sans-serif;font-weight:bold" fill="#000">C</text>
<text x="389.6" y="293.6" font-size="21.2" style="font-family:'Liberation Sans',sans-serif;font-weight:bold" fill="#000">D</text>
</svg></body></html>
